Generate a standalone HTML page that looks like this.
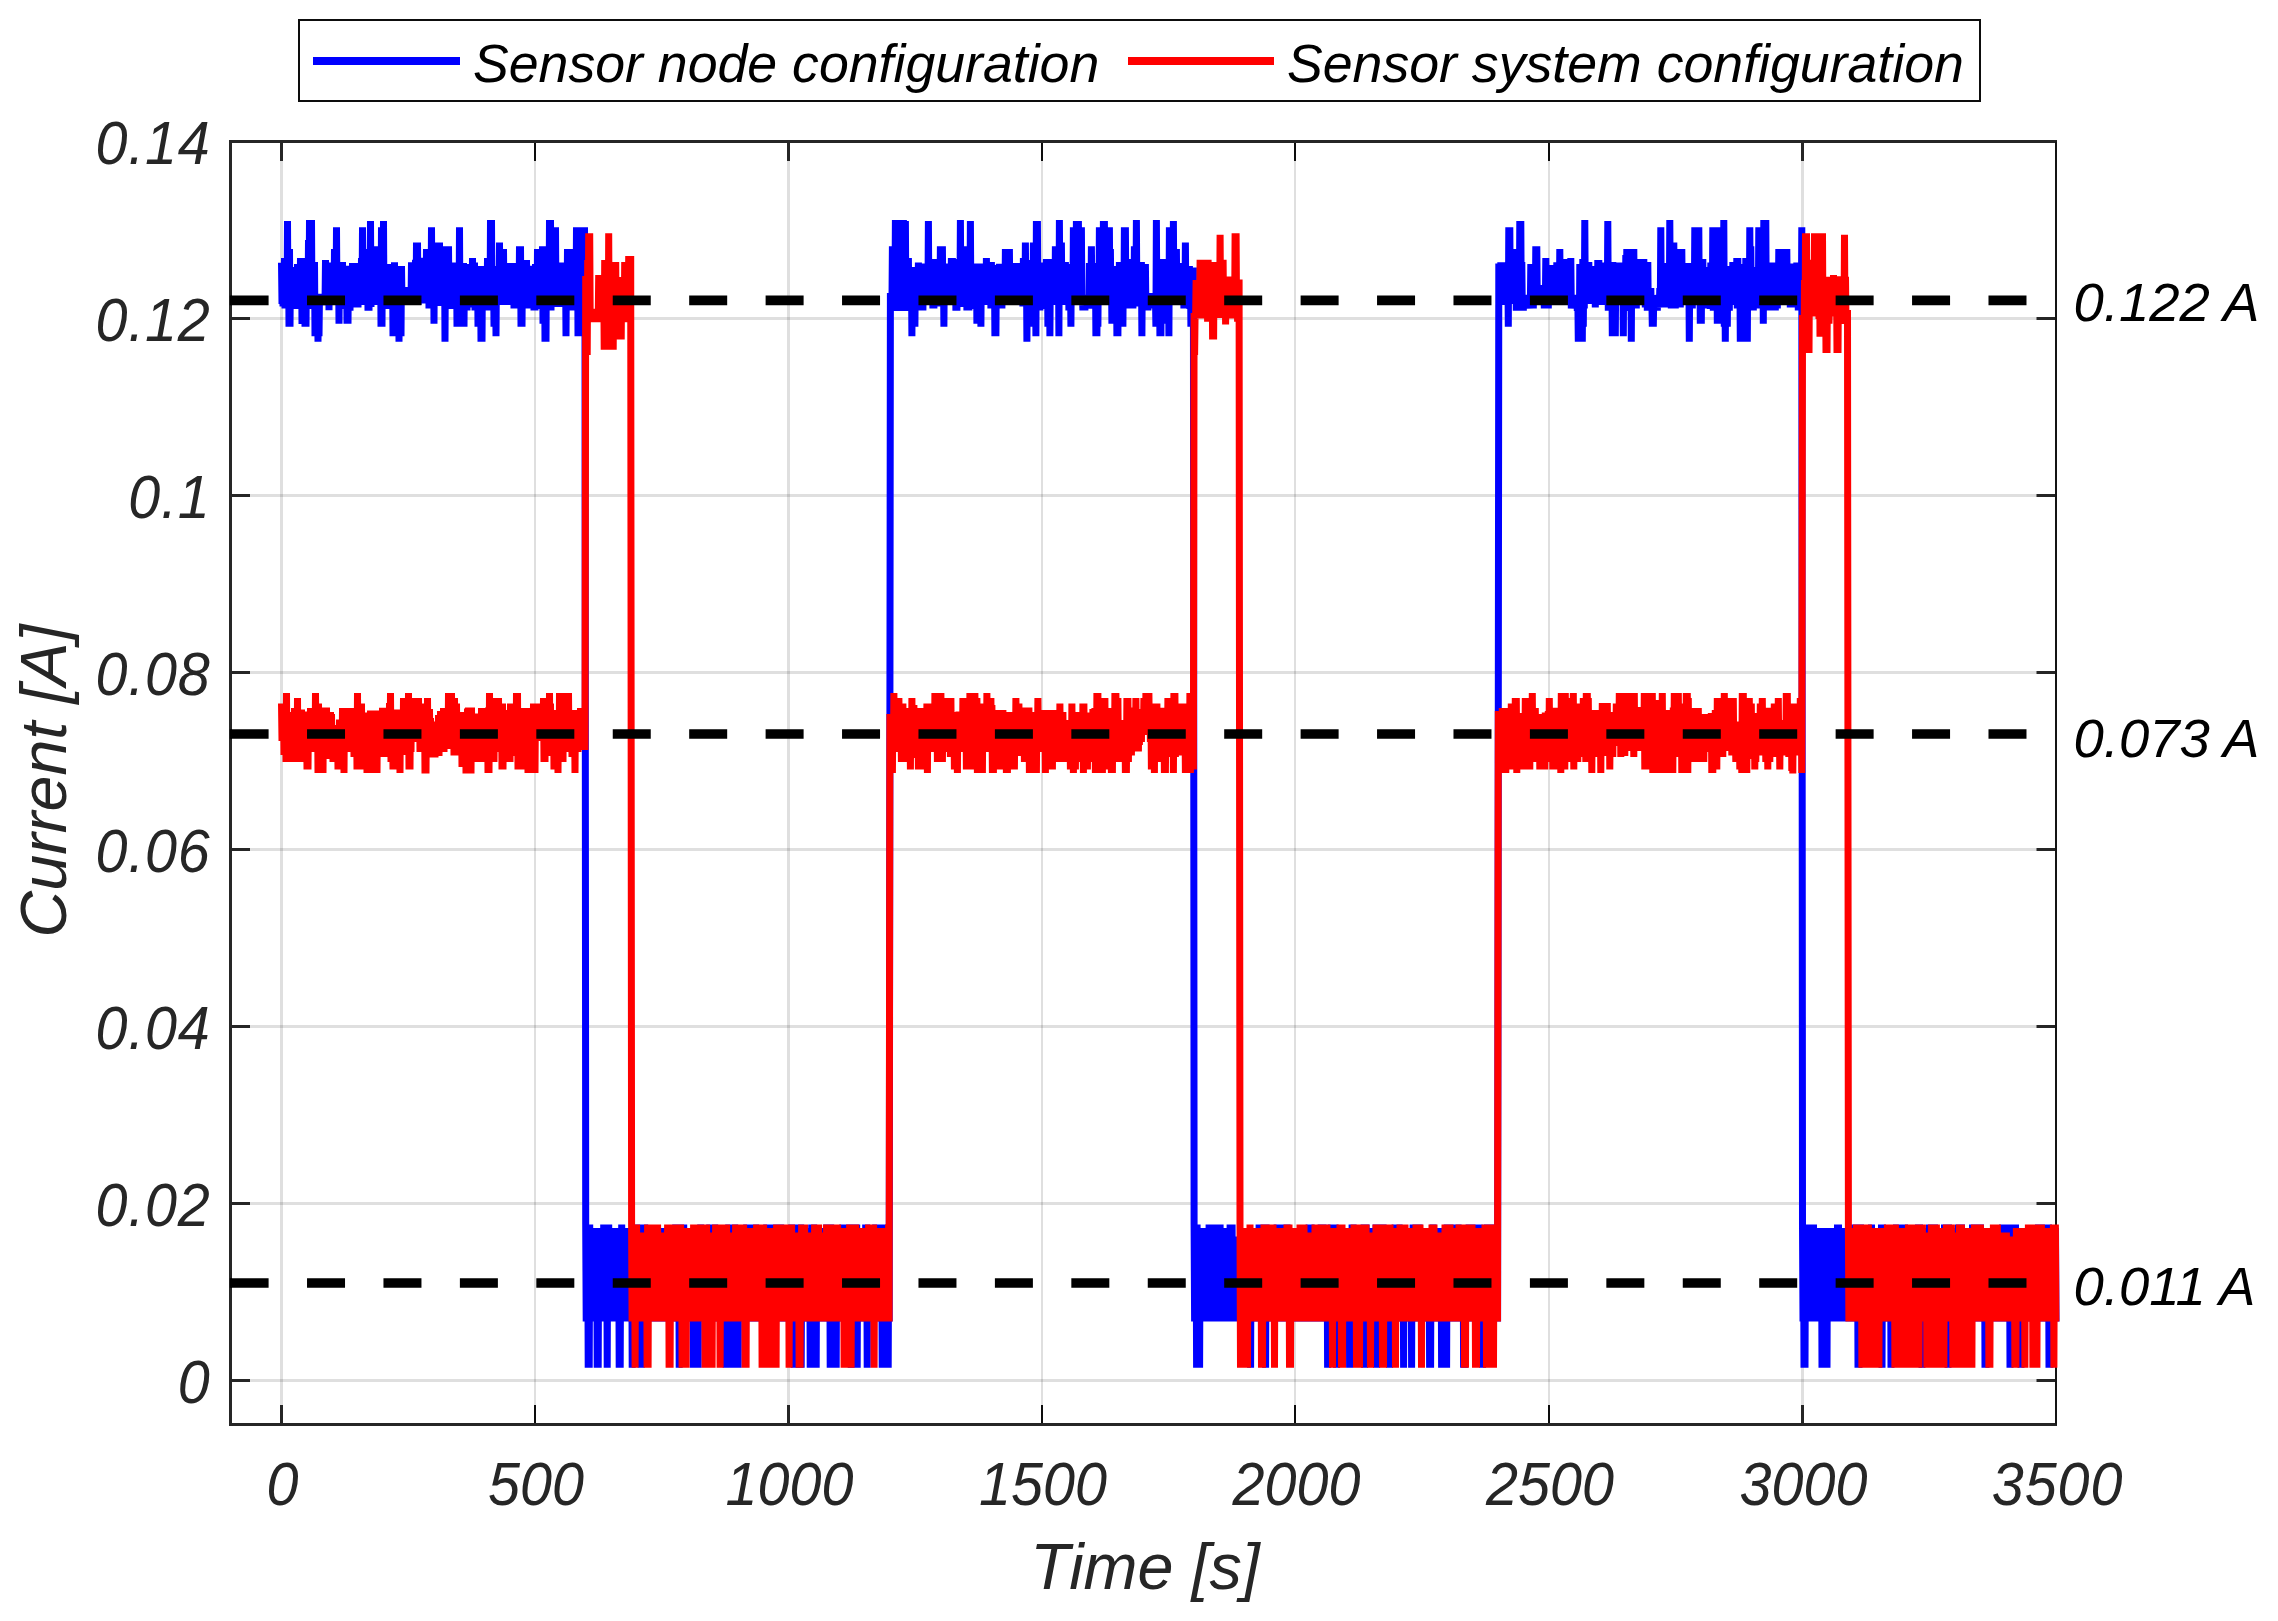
<!DOCTYPE html>
<html lang="en"><head><meta charset="utf-8"><title>Current consumption</title>
<style>html,body{margin:0;padding:0;background:#fff}body{width:2278px;height:1621px;overflow:hidden}svg{display:block}text{font-family:"Liberation Sans", Arial, Helvetica, sans-serif;font-style:italic}</style></head><body>
<svg width="2278" height="1621" viewBox="0 0 2278 1621">
<rect width="2278" height="1621" fill="#fff"/>
<g stroke="#262626" stroke-opacity="0.15" stroke-width="3"><line x1="281.5" y1="141.5" x2="281.5" y2="1424.5"/><line x1="535.0" y1="141.5" x2="535.0" y2="1424.5" stroke-width="2"/><line x1="788.5" y1="141.5" x2="788.5" y2="1424.5"/><line x1="1042.0" y1="141.5" x2="1042.0" y2="1424.5" stroke-width="2"/><line x1="1295.0" y1="141.5" x2="1295.0" y2="1424.5" stroke-width="2"/><line x1="1549.0" y1="141.5" x2="1549.0" y2="1424.5" stroke-width="2"/><line x1="1802.5" y1="141.5" x2="1802.5" y2="1424.5"/><line x1="2056.0" y1="141.5" x2="2056.0" y2="1424.5" stroke-width="2"/><line x1="230.5" y1="1380.5" x2="2056.0" y2="1380.5"/><line x1="230.5" y1="1203.5" x2="2056.0" y2="1203.5"/><line x1="230.5" y1="1026.5" x2="2056.0" y2="1026.5"/><line x1="230.5" y1="849.5" x2="2056.0" y2="849.5"/><line x1="230.5" y1="672.5" x2="2056.0" y2="672.5"/><line x1="230.5" y1="495.5" x2="2056.0" y2="495.5"/><line x1="230.5" y1="318.5" x2="2056.0" y2="318.5"/><line x1="230.5" y1="141.5" x2="2056.0" y2="141.5"/></g>
<g stroke="#262626" stroke-width="3"><line x1="281.5" y1="141.5" x2="281.5" y2="161.0"/><line x1="281.5" y1="1424.5" x2="281.5" y2="1405.0"/><line x1="535.0" y1="141.5" x2="535.0" y2="161.0" stroke-width="2" stroke="#0d0d0d"/><line x1="535.0" y1="1424.5" x2="535.0" y2="1405.0" stroke-width="2" stroke="#0d0d0d"/><line x1="788.5" y1="141.5" x2="788.5" y2="161.0"/><line x1="788.5" y1="1424.5" x2="788.5" y2="1405.0"/><line x1="1042.0" y1="141.5" x2="1042.0" y2="161.0" stroke-width="2" stroke="#0d0d0d"/><line x1="1042.0" y1="1424.5" x2="1042.0" y2="1405.0" stroke-width="2" stroke="#0d0d0d"/><line x1="1295.0" y1="141.5" x2="1295.0" y2="161.0" stroke-width="2" stroke="#0d0d0d"/><line x1="1295.0" y1="1424.5" x2="1295.0" y2="1405.0" stroke-width="2" stroke="#0d0d0d"/><line x1="1549.0" y1="141.5" x2="1549.0" y2="161.0" stroke-width="2" stroke="#0d0d0d"/><line x1="1549.0" y1="1424.5" x2="1549.0" y2="1405.0" stroke-width="2" stroke="#0d0d0d"/><line x1="1802.5" y1="141.5" x2="1802.5" y2="161.0"/><line x1="1802.5" y1="1424.5" x2="1802.5" y2="1405.0"/><line x1="2056.0" y1="141.5" x2="2056.0" y2="161.0" stroke-width="2" stroke="#0d0d0d"/><line x1="2056.0" y1="1424.5" x2="2056.0" y2="1405.0" stroke-width="2" stroke="#0d0d0d"/><line x1="230.5" y1="1380.5" x2="250.0" y2="1380.5"/><line x1="2056.0" y1="1380.5" x2="2036.5" y2="1380.5"/><line x1="230.5" y1="1203.5" x2="250.0" y2="1203.5"/><line x1="2056.0" y1="1203.5" x2="2036.5" y2="1203.5"/><line x1="230.5" y1="1026.5" x2="250.0" y2="1026.5"/><line x1="2056.0" y1="1026.5" x2="2036.5" y2="1026.5"/><line x1="230.5" y1="849.5" x2="250.0" y2="849.5"/><line x1="2056.0" y1="849.5" x2="2036.5" y2="849.5"/><line x1="230.5" y1="672.5" x2="250.0" y2="672.5"/><line x1="2056.0" y1="672.5" x2="2036.5" y2="672.5"/><line x1="230.5" y1="495.5" x2="250.0" y2="495.5"/><line x1="2056.0" y1="495.5" x2="2036.5" y2="495.5"/><line x1="230.5" y1="318.5" x2="250.0" y2="318.5"/><line x1="2056.0" y1="318.5" x2="2036.5" y2="318.5"/><line x1="230.5" y1="141.5" x2="250.0" y2="141.5"/><line x1="2056.0" y1="141.5" x2="2036.5" y2="141.5"/>
<path fill="none" d="M230.5 140.0V1424.5H2057.0"/>
<path fill="none" d="M230.5 141.5H2057.0"/>
<path fill="none" stroke-width="2" stroke="#141414" d="M2056.0 141.5V1424.5"/>
</g>
<polyline fill="none" stroke="#0000ff" stroke-width="7" stroke-linejoin="bevel" stroke-linecap="butt" points="281.5,262.8 282.0,304.0 282.5,262.8 283.0,306.5 283.5,262.8 284.0,306.5 284.5,258.0 285.0,308.5 285.5,258.0 286.0,308.5 286.5,258.0 287.0,308.5 287.5,221.0 288.0,308.5 288.5,249.0 289.0,326.7 289.5,249.0 290.0,326.7 290.5,267.0 291.0,309.0 291.5,267.0 292.0,309.0 292.5,267.0 293.0,309.0 293.5,267.0 294.0,309.0 294.5,267.0 295.0,309.0 295.5,267.0 296.0,309.0 296.5,267.0 297.0,309.0 297.5,264.0 298.0,309.0 298.5,264.0 299.0,309.0 299.5,264.0 300.0,309.0 300.5,258.0 301.0,309.0 301.5,258.0 302.0,324.0 302.5,258.0 303.0,324.0 303.5,258.0 304.0,324.0 304.5,258.0 305.0,326.7 305.5,258.0 306.0,326.7 306.5,258.0 307.0,309.0 307.5,258.0 308.0,309.0 308.5,240.0 309.0,309.0 309.5,220.0 310.0,309.0 310.5,220.0 311.0,309.0 311.5,220.0 312.0,309.0 312.5,262.0 313.0,309.0 313.5,262.0 314.0,309.0 314.5,262.0 315.0,336.3 315.5,294.0 316.0,336.3 316.5,294.0 317.0,336.3 317.5,294.0 318.0,341.7 318.5,294.0 319.0,336.3 319.5,294.0 320.0,305.0 320.5,294.0 321.0,305.0 321.5,294.0 322.0,305.0 322.5,294.0 323.0,305.0 323.5,294.0 324.0,305.0 324.5,294.0 325.0,305.0 325.5,260.0 326.0,305.0 326.5,262.5 327.0,305.0 327.5,262.5 328.0,305.0 328.5,262.5 329.0,310.3 329.5,262.5 330.0,305.0 330.5,262.5 331.0,305.0 331.5,262.5 332.0,305.0 332.5,262.5 333.0,305.0 333.5,262.5 334.0,305.0 334.5,249.0 335.0,305.0 335.5,249.0 336.0,305.0 336.5,227.2 337.0,305.0 337.5,262.0 338.0,305.0 338.5,262.0 339.0,323.7 339.5,262.0 340.0,309.0 340.5,262.0 341.0,309.0 341.5,262.0 342.0,309.0 342.5,262.0 343.0,309.0 343.5,265.8 344.0,309.0 344.5,265.8 345.0,309.0 345.5,265.8 346.0,309.0 346.5,265.8 347.0,323.7 347.5,265.8 348.0,323.7 348.5,265.8 349.0,310.7 349.5,265.8 350.0,310.7 350.5,265.8 351.0,307.5 351.5,265.8 352.0,307.5 352.5,263.0 353.0,307.5 353.5,263.0 354.0,307.5 354.5,263.0 355.0,307.5 355.5,263.0 356.0,307.5 356.5,263.0 357.0,307.5 357.5,263.0 358.0,307.5 358.5,263.0 359.0,305.0 359.5,263.0 360.0,305.0 360.5,263.0 361.0,305.0 361.5,258.0 362.0,305.0 362.5,227.2 363.0,305.0 363.5,249.0 364.0,305.0 364.5,249.0 365.0,305.0 365.5,249.0 366.0,305.0 366.5,249.0 367.0,305.0 367.5,249.0 368.0,310.7 368.5,249.0 369.0,310.7 369.5,249.0 370.0,307.0 370.5,221.0 371.0,307.0 371.5,246.2 372.0,305.0 372.5,246.2 373.0,305.0 373.5,246.2 374.0,305.0 374.5,246.2 375.0,305.0 375.5,246.2 376.0,305.0 376.5,246.2 377.0,305.0 377.5,246.2 378.0,305.0 378.5,246.2 379.0,305.0 379.5,246.2 380.0,305.0 380.5,246.2 381.0,326.7 381.5,227.2 382.0,326.7 382.5,227.2 383.0,309.0 383.5,221.0 384.0,309.0 384.5,264.0 385.0,309.0 385.5,264.0 386.0,309.0 386.5,264.0 387.0,309.0 387.5,264.0 388.0,309.0 388.5,264.0 389.0,309.0 389.5,264.0 390.0,309.0 390.5,264.0 391.0,309.0 391.5,264.0 392.0,309.0 392.5,264.0 393.0,336.3 393.5,264.0 394.0,336.3 394.5,262.3 395.0,336.3 395.5,266.0 396.0,336.3 396.5,266.0 397.0,336.3 397.5,266.0 398.0,336.3 398.5,266.0 399.0,341.7 399.5,266.0 400.0,336.3 400.5,266.0 401.0,336.3 401.5,266.0 402.0,305.0 402.5,287.0 403.0,305.0 403.5,287.0 404.0,305.0 404.5,287.0 405.0,305.0 405.5,287.0 406.0,305.0 406.5,287.0 407.0,305.0 407.5,287.0 408.0,305.0 408.5,287.0 409.0,305.0 409.5,287.0 410.0,305.0 410.5,287.0 411.0,305.0 411.5,262.3 412.0,305.0 412.5,262.3 413.0,305.0 413.5,262.3 414.0,305.0 414.5,262.3 415.0,305.0 415.5,259.8 416.0,305.0 416.5,242.5 417.0,305.0 417.5,242.5 418.0,305.0 418.5,257.8 419.0,303.5 419.5,257.8 420.0,303.5 420.5,257.8 421.0,303.5 421.5,257.8 422.0,303.5 422.5,257.8 423.0,303.5 423.5,257.8 424.0,303.5 424.5,257.8 425.0,303.5 425.5,257.8 426.0,303.5 426.5,249.0 427.0,303.5 427.5,249.0 428.0,303.5 428.5,249.0 429.0,308.5 429.5,249.0 430.0,308.5 430.5,249.0 431.0,308.5 431.5,227.2 432.0,308.5 432.5,242.5 433.0,308.5 433.5,242.5 434.0,323.7 434.5,242.5 435.0,306.0 435.5,242.5 436.0,306.0 436.5,242.5 437.0,306.0 437.5,242.5 438.0,306.0 438.5,242.5 439.0,306.0 439.5,242.5 440.0,306.0 440.5,246.2 441.0,306.0 441.5,246.2 442.0,306.0 442.5,246.2 443.0,306.0 443.5,246.2 444.0,306.0 444.5,246.2 445.0,341.7 445.5,246.2 446.0,309.0 446.5,246.2 447.0,309.0 447.5,246.2 448.0,309.0 448.5,246.2 449.0,309.0 449.5,262.5 450.0,309.0 450.5,262.5 451.0,309.0 451.5,262.5 452.0,309.0 452.5,262.5 453.0,309.0 453.5,262.5 454.0,309.0 454.5,262.5 455.0,309.0 455.5,262.5 456.0,309.0 456.5,262.5 457.0,326.7 457.5,262.5 458.0,326.7 458.5,262.5 459.0,326.7 459.5,227.2 460.0,326.7 460.5,263.0 461.0,326.7 461.5,263.0 462.0,326.7 462.5,263.0 463.0,326.7 463.5,263.0 464.0,326.7 464.5,264.0 465.0,310.5 465.5,264.0 466.0,310.5 466.5,264.0 467.0,310.5 467.5,264.0 468.0,307.5 468.5,264.0 469.0,307.5 469.5,264.0 470.0,307.5 470.5,264.0 471.0,307.5 471.5,264.0 472.0,307.5 472.5,258.0 473.0,307.5 473.5,262.5 474.0,307.5 474.5,262.5 475.0,310.5 475.5,266.0 476.0,310.5 476.5,266.0 477.0,310.5 477.5,266.0 478.0,326.7 478.5,266.0 479.0,326.7 479.5,266.0 480.0,326.7 480.5,266.0 481.0,341.7 481.5,266.0 482.0,341.7 482.5,266.0 483.0,310.5 483.5,266.0 484.0,310.5 484.5,266.0 485.0,310.5 485.5,266.0 486.0,310.5 486.5,266.0 487.0,310.5 487.5,258.0 488.0,310.5 488.5,258.0 489.0,310.5 489.5,258.0 490.0,310.5 490.5,220.0 491.0,310.5 491.5,220.0 492.0,310.5 492.5,266.0 493.0,310.5 493.5,266.0 494.0,326.7 494.5,266.0 495.0,326.7 495.5,266.0 496.0,336.3 496.5,266.0 497.0,305.0 497.5,266.0 498.0,305.0 498.5,266.0 499.0,305.0 499.5,242.5 500.0,305.0 500.5,249.0 501.0,305.0 501.5,249.0 502.0,305.0 502.5,249.0 503.0,305.0 503.5,249.0 504.0,305.0 504.5,263.0 505.0,305.0 505.5,263.0 506.0,305.0 506.5,263.0 507.0,305.0 507.5,263.0 508.0,305.0 508.5,263.0 509.0,305.0 509.5,263.0 510.0,305.0 510.5,263.0 511.0,305.0 511.5,263.0 512.0,305.0 512.5,263.0 513.0,305.0 513.5,263.0 514.0,308.5 514.5,263.0 515.0,308.5 515.5,263.0 516.0,308.5 516.5,263.0 517.0,308.5 517.5,263.0 518.0,308.5 518.5,263.0 519.0,308.5 519.5,246.2 520.0,308.5 520.5,246.2 521.0,326.7 521.5,260.0 522.0,326.7 522.5,260.0 523.0,308.5 523.5,260.0 524.0,308.5 524.5,260.0 525.0,308.5 525.5,260.0 526.0,308.5 526.5,260.0 527.0,308.5 527.5,265.8 528.0,308.5 528.5,265.8 529.0,308.5 529.5,265.8 530.0,308.5 530.5,265.8 531.0,308.5 531.5,265.8 532.0,308.5 532.5,265.8 533.0,308.5 533.5,265.8 534.0,310.5 534.5,265.8 535.0,310.5 535.5,264.0 536.0,309.0 536.5,264.0 537.0,309.0 537.5,249.0 538.0,309.0 538.5,249.0 539.0,309.0 539.5,249.0 540.0,309.0 540.5,249.0 541.0,309.0 541.5,249.0 542.0,309.0 542.5,246.2 543.0,323.7 543.5,246.2 544.0,323.7 544.5,246.2 545.0,341.7 545.5,246.2 546.0,341.7 546.5,246.2 547.0,310.5 547.5,246.2 548.0,310.5 548.5,246.2 549.0,310.5 549.5,220.0 550.0,310.5 550.5,220.0 551.0,310.5 551.5,227.2 552.0,307.0 552.5,227.2 553.0,307.0 553.5,227.2 554.0,307.0 554.5,227.2 555.0,307.0 555.5,227.2 556.0,307.0 556.5,262.5 557.0,307.0 557.5,262.5 558.0,307.0 558.5,262.5 559.0,307.0 559.5,262.5 560.0,307.0 560.5,262.5 561.0,307.0 561.5,262.5 562.0,307.0 562.5,262.5 563.0,307.0 563.5,262.5 564.0,307.0 564.5,262.5 565.0,307.0 565.5,262.5 566.0,336.3 566.5,262.5 567.0,310.5 567.5,249.0 568.0,310.5 568.5,249.0 569.0,310.5 569.5,249.0 570.0,310.5 570.5,249.0 571.0,310.5 571.5,249.0 572.0,310.5 572.5,249.0 573.0,310.5 573.5,249.0 574.0,310.5 574.5,249.0 575.0,310.5 575.5,249.0 576.0,310.5 576.5,227.2 577.0,310.5 577.5,227.2 578.0,336.3 578.5,227.2 579.0,336.3 579.5,227.2 580.0,336.3 580.5,227.2 581.0,336.3 581.5,227.2 582.0,336.3 582.5,227.2 583.0,336.3 583.5,227.2 584.0,336.3 584.5,227.2 585.0,336.3 585.7,1224.5 586.2,1321.5 586.7,1224.5 587.2,1321.5 587.7,1224.5 588.2,1367.7 588.7,1224.5 589.2,1367.7 589.7,1224.5 590.2,1321.5 590.7,1228.0 591.2,1321.5 591.7,1228.0 592.2,1321.5 592.7,1228.0 593.2,1321.5 593.7,1228.0 594.2,1321.5 594.7,1228.0 595.2,1321.5 595.7,1228.0 596.2,1321.5 596.7,1228.0 597.2,1367.7 597.7,1228.0 598.2,1367.7 598.7,1228.0 599.2,1321.5 599.7,1228.0 600.2,1321.5 600.7,1228.0 601.2,1321.5 601.7,1228.0 602.2,1321.5 602.7,1228.0 603.2,1321.5 603.7,1224.5 604.2,1321.5 604.7,1224.5 605.2,1321.5 605.7,1224.5 606.2,1321.5 606.7,1224.5 607.2,1367.7 607.7,1224.5 608.2,1321.5 608.7,1224.5 609.2,1321.5 609.7,1228.0 610.2,1321.5 610.7,1228.0 611.2,1321.5 611.7,1228.0 612.2,1321.5 612.7,1228.0 613.2,1321.5 613.7,1228.0 614.2,1321.5 614.7,1228.0 615.2,1321.5 615.7,1228.0 616.2,1321.5 616.7,1228.0 617.2,1321.5 617.7,1228.0 618.2,1321.5 618.7,1228.0 619.2,1367.7 619.7,1228.0 620.2,1367.7 620.7,1228.0 621.2,1321.5 621.7,1224.5 622.2,1321.5 622.7,1228.0 623.2,1321.5 623.7,1228.0 624.2,1321.5 624.7,1228.0 625.2,1321.5 625.7,1228.0 626.2,1321.5 626.7,1228.0 627.2,1321.5 627.7,1228.0 628.2,1321.5 628.7,1228.0 629.2,1321.5 629.7,1228.0 630.2,1321.5 630.7,1228.0 631.2,1321.5 631.7,1228.0 632.2,1367.7 632.7,1228.0 633.2,1321.5 633.7,1224.5 634.2,1321.5 634.7,1224.5 635.2,1321.5 635.7,1224.5 636.2,1321.5 636.7,1224.5 637.2,1321.5 637.7,1224.5 638.2,1321.5 638.7,1224.5 639.2,1321.5 639.7,1224.5 640.2,1321.5 640.7,1224.5 641.2,1367.7 641.7,1224.5 642.2,1321.5 642.7,1224.5 643.2,1321.5 643.7,1224.5 644.2,1321.5 644.7,1224.5 645.2,1321.5 645.7,1228.0 646.2,1321.5 646.7,1228.0 647.2,1321.5 647.7,1228.0 648.2,1321.5 648.7,1228.0 649.2,1321.5 649.7,1228.0 650.2,1321.5 650.7,1228.0 651.2,1321.5 651.7,1228.0 652.2,1321.5 652.7,1228.0 653.2,1321.5 653.7,1228.0 654.2,1321.5 654.7,1228.0 655.2,1321.5 655.7,1228.0 656.2,1321.5 656.7,1228.0 657.2,1321.5 657.7,1228.0 658.2,1321.5 658.7,1228.0 659.2,1321.5 659.7,1228.0 660.2,1321.5 660.7,1228.0 661.2,1321.5 661.7,1228.0 662.2,1321.5 662.7,1228.0 663.2,1321.5 663.7,1228.0 664.2,1321.5 664.7,1228.0 665.2,1321.5 665.7,1236.5 666.2,1321.5 666.7,1236.5 667.2,1321.5 667.7,1236.5 668.2,1321.5 668.7,1236.5 669.2,1321.5 669.7,1236.5 670.2,1321.5 670.7,1236.5 671.2,1321.5 671.7,1236.5 672.2,1321.5 672.7,1236.5 673.2,1321.5 673.7,1236.5 674.2,1321.5 674.7,1236.5 675.2,1321.5 675.7,1224.5 676.2,1321.5 676.7,1224.5 677.2,1321.5 677.7,1224.5 678.2,1321.5 678.7,1224.5 679.2,1367.7 679.7,1224.5 680.2,1321.5 680.7,1224.5 681.2,1321.5 681.7,1224.5 682.2,1321.5 682.7,1224.5 683.2,1321.5 683.7,1224.5 684.2,1321.5 684.7,1228.0 685.2,1321.5 685.7,1228.0 686.2,1321.5 686.7,1228.0 687.2,1321.5 687.7,1228.0 688.2,1321.5 688.7,1228.0 689.2,1321.5 689.7,1228.0 690.2,1321.5 690.7,1228.0 691.2,1321.5 691.7,1228.0 692.2,1321.5 692.7,1228.0 693.2,1367.7 693.7,1228.0 694.2,1367.7 694.7,1228.0 695.2,1367.7 695.7,1228.0 696.2,1367.7 696.7,1228.0 697.2,1367.7 697.7,1228.0 698.2,1367.7 698.7,1228.0 699.2,1321.5 699.7,1228.0 700.2,1321.5 700.7,1224.5 701.2,1321.5 701.7,1228.0 702.2,1321.5 702.7,1228.0 703.2,1321.5 703.7,1228.0 704.2,1321.5 704.7,1228.0 705.2,1321.5 705.7,1228.0 706.2,1321.5 706.7,1228.0 707.2,1321.5 707.7,1228.0 708.2,1321.5 708.7,1228.0 709.2,1321.5 709.7,1224.5 710.2,1321.5 710.7,1224.5 711.2,1321.5 711.7,1224.5 712.2,1321.5 712.7,1224.5 713.2,1321.5 713.7,1224.5 714.2,1321.5 714.7,1224.5 715.2,1321.5 715.7,1228.0 716.2,1321.5 716.7,1228.0 717.2,1321.5 717.7,1228.0 718.2,1321.5 718.7,1228.0 719.2,1321.5 719.7,1228.0 720.2,1321.5 720.7,1228.0 721.2,1321.5 721.7,1228.0 722.2,1321.5 722.7,1228.0 723.2,1321.5 723.7,1228.0 724.2,1321.5 724.7,1228.0 725.2,1321.5 725.7,1228.0 726.2,1367.7 726.7,1228.0 727.2,1321.5 727.7,1228.0 728.2,1321.5 728.7,1224.5 729.2,1321.5 729.7,1224.5 730.2,1321.5 730.7,1224.5 731.2,1321.5 731.7,1224.5 732.2,1321.5 732.7,1224.5 733.2,1367.7 733.7,1224.5 734.2,1367.7 734.7,1224.5 735.2,1367.7 735.7,1228.0 736.2,1367.7 736.7,1228.0 737.2,1367.7 737.7,1228.0 738.2,1367.7 738.7,1228.0 739.2,1321.5 739.7,1228.0 740.2,1321.5 740.7,1228.0 741.2,1321.5 741.7,1228.0 742.2,1321.5 742.7,1228.0 743.2,1321.5 743.7,1228.0 744.2,1321.5 744.7,1228.0 745.2,1321.5 745.7,1228.0 746.2,1321.5 746.7,1224.5 747.2,1321.5 747.7,1224.5 748.2,1321.5 748.7,1224.5 749.2,1321.5 749.7,1224.5 750.2,1321.5 750.7,1224.5 751.2,1321.5 751.7,1224.5 752.2,1321.5 752.7,1224.5 753.2,1321.5 753.7,1224.5 754.2,1321.5 754.7,1224.5 755.2,1321.5 755.7,1224.5 756.2,1321.5 756.7,1228.0 757.2,1321.5 757.7,1228.0 758.2,1321.5 758.7,1228.0 759.2,1321.5 759.7,1228.0 760.2,1321.5 760.7,1228.0 761.2,1321.5 761.7,1228.0 762.2,1321.5 762.7,1228.0 763.2,1321.5 763.7,1228.0 764.2,1321.5 764.7,1228.0 765.2,1321.5 765.7,1228.0 766.2,1321.5 766.7,1224.5 767.2,1321.5 767.7,1224.5 768.2,1321.5 768.7,1224.5 769.2,1321.5 769.7,1224.5 770.2,1321.5 770.7,1224.5 771.2,1321.5 771.7,1224.5 772.2,1321.5 772.7,1224.5 773.2,1321.5 773.7,1224.5 774.2,1321.5 774.7,1224.5 775.2,1321.5 775.7,1224.5 776.2,1321.5 776.7,1224.5 777.2,1321.5 777.7,1224.5 778.2,1321.5 778.7,1224.5 779.2,1321.5 779.7,1224.5 780.2,1321.5 780.7,1224.5 781.2,1321.5 781.7,1236.5 782.2,1321.5 782.7,1236.5 783.2,1321.5 783.7,1236.5 784.2,1321.5 784.7,1236.5 785.2,1321.5 785.7,1236.5 786.2,1321.5 786.7,1236.5 787.2,1321.5 787.7,1236.5 788.2,1321.5 788.7,1236.5 789.2,1321.5 789.7,1236.5 790.2,1321.5 790.7,1236.5 791.2,1321.5 791.7,1224.5 792.2,1321.5 792.7,1224.5 793.2,1321.5 793.7,1224.5 794.2,1367.7 794.7,1224.5 795.2,1367.7 795.7,1224.5 796.2,1367.7 796.7,1224.5 797.2,1367.7 797.7,1224.5 798.2,1367.7 798.7,1224.5 799.2,1367.7 799.7,1224.5 800.2,1367.7 800.7,1224.5 801.2,1367.7 801.7,1228.0 802.2,1321.5 802.7,1228.0 803.2,1321.5 803.7,1228.0 804.2,1321.5 804.7,1228.0 805.2,1321.5 805.7,1228.0 806.2,1321.5 806.7,1228.0 807.2,1321.5 807.7,1228.0 808.2,1321.5 808.7,1228.0 809.2,1321.5 809.7,1228.0 810.2,1367.7 810.7,1228.0 811.2,1367.7 811.7,1224.5 812.2,1367.7 812.7,1224.5 813.2,1367.7 813.7,1224.5 814.2,1367.7 814.7,1228.0 815.2,1367.7 815.7,1228.0 816.2,1367.7 816.7,1228.0 817.2,1321.5 817.7,1228.0 818.2,1321.5 818.7,1228.0 819.2,1321.5 819.7,1228.0 820.2,1321.5 820.7,1228.0 821.2,1321.5 821.7,1228.0 822.2,1321.5 822.7,1228.0 823.2,1321.5 823.7,1228.0 824.2,1321.5 824.7,1228.0 825.2,1321.5 825.7,1228.0 826.2,1321.5 826.7,1224.5 827.2,1321.5 827.7,1224.5 828.2,1321.5 828.7,1224.5 829.2,1321.5 829.7,1224.5 830.2,1367.7 830.7,1224.5 831.2,1367.7 831.7,1228.0 832.2,1367.7 832.7,1228.0 833.2,1367.7 833.7,1228.0 834.2,1367.7 834.7,1228.0 835.2,1367.7 835.7,1228.0 836.2,1367.7 836.7,1228.0 837.2,1321.5 837.7,1228.0 838.2,1321.5 838.7,1228.0 839.2,1321.5 839.7,1228.0 840.2,1321.5 840.7,1228.0 841.2,1321.5 841.7,1228.0 842.2,1321.5 842.7,1224.5 843.2,1321.5 843.7,1224.5 844.2,1321.5 844.7,1224.5 845.2,1321.5 845.7,1224.5 846.2,1321.5 846.7,1224.5 847.2,1321.5 847.7,1224.5 848.2,1321.5 848.7,1224.5 849.2,1321.5 849.7,1224.5 850.2,1321.5 850.7,1224.5 851.2,1367.7 851.7,1224.5 852.2,1367.7 852.7,1224.5 853.2,1367.7 853.7,1224.5 854.2,1367.7 854.7,1224.5 855.2,1367.7 855.7,1224.5 856.2,1367.7 856.7,1224.5 857.2,1367.7 857.7,1228.0 858.2,1321.5 858.7,1228.0 859.2,1321.5 859.7,1228.0 860.2,1321.5 860.7,1228.0 861.2,1321.5 861.7,1228.0 862.2,1321.5 862.7,1228.0 863.2,1321.5 863.7,1228.0 864.2,1321.5 864.7,1228.0 865.2,1321.5 865.7,1224.5 866.2,1321.5 866.7,1224.5 867.2,1367.7 867.7,1232.5 868.2,1321.5 868.7,1232.5 869.2,1321.5 869.7,1232.5 870.2,1321.5 870.7,1232.5 871.2,1321.5 871.7,1232.5 872.2,1321.5 872.7,1232.5 873.2,1321.5 873.7,1232.5 874.2,1321.5 874.7,1232.5 875.2,1321.5 875.7,1224.5 876.2,1321.5 876.7,1224.5 877.2,1321.5 877.7,1224.5 878.2,1321.5 878.7,1224.5 879.2,1321.5 879.7,1224.5 880.2,1321.5 880.7,1224.5 881.2,1321.5 881.7,1224.5 882.2,1367.7 882.7,1224.5 883.2,1367.7 883.7,1224.5 884.2,1367.7 884.7,1224.5 885.2,1367.7 885.7,1224.5 886.2,1367.7 886.7,1224.5 887.2,1367.7 887.7,1224.5 888.2,1367.7 888.7,1224.5 889.2,1321.5 890.4,293.0 890.9,311.0 891.4,293.0 891.9,311.0 892.4,246.2 892.9,311.0 893.4,246.2 893.9,311.0 894.4,246.2 894.9,311.0 895.4,220.0 895.9,311.0 896.4,220.0 896.9,311.0 897.4,220.0 897.9,311.0 898.4,220.0 898.9,311.0 899.4,220.0 899.9,311.0 900.4,220.0 900.9,311.0 901.4,220.0 901.9,311.0 902.4,220.0 902.9,311.0 903.4,220.0 903.9,311.0 904.4,221.0 904.9,311.0 905.4,221.0 905.9,311.0 906.4,258.0 906.9,311.0 907.4,258.0 907.9,311.0 908.4,258.0 908.9,311.0 909.4,267.0 909.9,311.0 910.4,267.0 910.9,311.0 911.4,267.0 911.9,336.3 912.4,267.0 912.9,326.7 913.4,267.0 913.9,326.7 914.4,267.0 914.9,326.7 915.4,267.0 915.9,310.5 916.4,267.0 916.9,310.5 917.4,267.0 917.9,310.5 918.4,262.5 918.9,310.5 919.4,263.5 919.9,310.5 920.4,263.5 920.9,310.5 921.4,263.5 921.9,310.5 922.4,263.5 922.9,310.5 923.4,263.5 923.9,305.0 924.4,263.5 924.9,305.0 925.4,263.5 925.9,305.0 926.4,263.5 926.9,305.0 927.4,263.5 927.9,305.0 928.4,221.0 928.9,305.0 929.4,259.0 929.9,305.0 930.4,259.0 930.9,305.0 931.4,259.0 931.9,305.0 932.4,259.0 932.9,308.5 933.4,259.0 933.9,308.5 934.4,259.0 934.9,306.5 935.4,259.0 935.9,306.5 936.4,259.0 936.9,306.5 937.4,259.0 937.9,306.5 938.4,259.0 938.9,306.5 939.4,259.0 939.9,306.5 940.4,246.2 940.9,306.5 941.4,246.2 941.9,306.5 942.4,246.2 942.9,306.5 943.4,263.5 943.9,326.7 944.4,263.5 944.9,305.0 945.4,263.5 945.9,305.0 946.4,263.5 946.9,305.0 947.4,263.5 947.9,305.0 948.4,263.5 948.9,305.0 949.4,263.5 949.9,305.0 950.4,263.5 950.9,305.0 951.4,258.0 951.9,305.0 952.4,258.0 952.9,305.0 953.4,259.0 953.9,305.0 954.4,259.0 954.9,305.0 955.4,259.0 955.9,310.7 956.4,259.0 956.9,310.7 957.4,259.0 957.9,307.0 958.4,259.0 958.9,307.0 959.4,259.0 959.9,307.0 960.4,220.0 960.9,307.0 961.4,246.2 961.9,307.0 962.4,246.2 962.9,307.0 963.4,246.2 963.9,307.0 964.4,246.2 964.9,307.0 965.4,246.2 965.9,307.0 966.4,246.2 966.9,310.5 967.4,246.2 967.9,310.5 968.4,246.2 968.9,310.5 969.4,246.2 969.9,309.0 970.4,221.0 970.9,309.0 971.4,263.5 971.9,309.0 972.4,263.5 972.9,309.0 973.4,263.5 973.9,309.0 974.4,263.5 974.9,309.0 975.4,263.5 975.9,309.0 976.4,263.5 976.9,323.7 977.4,263.5 977.9,323.7 978.4,263.5 978.9,323.7 979.4,263.5 979.9,323.7 980.4,263.5 980.9,326.7 981.4,263.5 981.9,305.0 982.4,263.5 982.9,305.0 983.4,263.5 983.9,305.0 984.4,263.5 984.9,305.0 985.4,263.5 985.9,305.0 986.4,258.0 986.9,305.0 987.4,262.0 987.9,305.0 988.4,262.0 988.9,305.0 989.4,262.0 989.9,305.0 990.4,262.0 990.9,308.5 991.4,262.0 991.9,308.5 992.4,265.0 992.9,308.5 993.4,265.0 993.9,308.5 994.4,265.0 994.9,336.3 995.4,265.0 995.9,336.3 996.4,265.0 996.9,308.5 997.4,265.0 997.9,308.5 998.4,265.0 998.9,308.5 999.4,263.8 999.9,308.5 1000.4,263.8 1000.9,308.5 1001.4,263.8 1001.9,308.5 1002.4,263.8 1002.9,305.0 1003.4,263.8 1003.9,305.0 1004.4,263.8 1004.9,305.0 1005.4,249.0 1005.9,305.0 1006.4,249.0 1006.9,305.0 1007.4,249.0 1007.9,305.0 1008.4,249.0 1008.9,305.0 1009.4,249.0 1009.9,305.0 1010.4,263.0 1010.9,305.0 1011.4,263.0 1011.9,305.0 1012.4,263.0 1012.9,305.0 1013.4,263.0 1013.9,305.0 1014.4,263.0 1014.9,305.0 1015.4,263.0 1015.9,305.0 1016.4,263.0 1016.9,305.0 1017.4,263.0 1017.9,305.0 1018.4,263.0 1018.9,305.0 1019.4,263.0 1019.9,305.0 1020.4,263.0 1020.9,305.0 1021.4,263.0 1021.9,305.0 1022.4,263.0 1022.9,306.5 1023.4,258.0 1023.9,306.5 1024.4,258.0 1024.9,306.5 1025.4,242.5 1025.9,306.5 1026.4,260.0 1026.9,341.7 1027.4,260.0 1027.9,326.7 1028.4,260.0 1028.9,326.7 1029.4,260.0 1029.9,326.7 1030.4,260.0 1030.9,326.7 1031.4,260.0 1031.9,326.7 1032.4,260.0 1032.9,326.7 1033.4,242.5 1033.9,326.7 1034.4,242.5 1034.9,326.7 1035.4,242.5 1035.9,336.3 1036.4,221.0 1036.9,310.5 1037.4,221.0 1037.9,310.5 1038.4,262.5 1038.9,310.5 1039.4,262.5 1039.9,310.5 1040.4,262.5 1040.9,309.0 1041.4,262.5 1041.9,309.0 1042.4,262.5 1042.9,309.0 1043.4,262.5 1043.9,309.0 1044.4,262.5 1044.9,309.0 1045.4,262.5 1045.9,309.0 1046.4,259.0 1046.9,309.0 1047.4,259.0 1047.9,326.7 1048.4,259.0 1048.9,326.7 1049.4,259.0 1049.9,336.3 1050.4,259.0 1050.9,305.0 1051.4,259.0 1051.9,305.0 1052.4,259.0 1052.9,305.0 1053.4,259.0 1053.9,305.0 1054.4,259.0 1054.9,305.0 1055.4,246.2 1055.9,305.0 1056.4,246.2 1056.9,305.0 1057.4,246.2 1057.9,305.0 1058.4,246.2 1058.9,336.3 1059.4,220.0 1059.9,305.0 1060.4,242.5 1060.9,305.0 1061.4,242.5 1061.9,305.0 1062.4,262.0 1062.9,305.0 1063.4,262.0 1063.9,305.0 1064.4,262.0 1064.9,305.0 1065.4,262.0 1065.9,305.0 1066.4,264.0 1066.9,305.0 1067.4,264.0 1067.9,305.0 1068.4,264.0 1068.9,310.5 1069.4,264.0 1069.9,310.5 1070.4,264.0 1070.9,326.7 1071.4,264.0 1071.9,305.0 1072.4,264.0 1072.9,305.0 1073.4,227.2 1073.9,305.0 1074.4,227.2 1074.9,305.0 1075.4,227.2 1075.9,305.0 1076.4,221.0 1076.9,305.0 1077.4,221.0 1077.9,305.0 1078.4,221.0 1078.9,305.0 1079.4,227.2 1079.9,305.0 1080.4,227.2 1080.9,305.0 1081.4,227.2 1081.9,305.0 1082.4,295.0 1082.9,310.5 1083.4,295.0 1083.9,310.5 1084.4,295.0 1084.9,310.5 1085.4,295.0 1085.9,308.5 1086.4,295.0 1086.9,308.5 1087.4,295.0 1087.9,308.5 1088.4,295.0 1088.9,308.5 1089.4,263.0 1089.9,308.5 1090.4,263.0 1090.9,308.5 1091.4,246.2 1091.9,308.5 1092.4,263.0 1092.9,308.5 1093.4,263.0 1093.9,308.5 1094.4,263.0 1094.9,308.5 1095.4,263.0 1095.9,336.3 1096.4,263.0 1096.9,336.3 1097.4,263.0 1097.9,326.7 1098.4,263.0 1098.9,305.0 1099.4,227.2 1099.9,305.0 1100.4,227.2 1100.9,305.0 1101.4,227.2 1101.9,305.0 1102.4,227.2 1102.9,305.0 1103.4,221.0 1103.9,305.0 1104.4,221.0 1104.9,305.0 1105.4,227.2 1105.9,305.0 1106.4,227.2 1106.9,305.0 1107.4,227.2 1107.9,305.0 1108.4,227.2 1108.9,305.0 1109.4,227.2 1109.9,305.0 1110.4,249.0 1110.9,305.0 1111.4,266.0 1111.9,323.7 1112.4,266.0 1112.9,323.7 1113.4,266.0 1113.9,323.7 1114.4,266.0 1114.9,323.7 1115.4,266.0 1115.9,323.7 1116.4,266.0 1116.9,336.3 1117.4,266.0 1117.9,336.3 1118.4,266.0 1118.9,326.7 1119.4,262.0 1119.9,326.7 1120.4,262.0 1120.9,326.7 1121.4,262.0 1121.9,326.7 1122.4,262.0 1122.9,326.7 1123.4,262.0 1123.9,308.5 1124.4,227.2 1124.9,308.5 1125.4,227.2 1125.9,308.5 1126.4,259.0 1126.9,308.5 1127.4,259.0 1127.9,308.5 1128.4,259.0 1128.9,308.5 1129.4,259.0 1129.9,308.5 1130.4,259.0 1130.9,308.5 1131.4,259.0 1131.9,308.5 1132.4,259.0 1132.9,308.5 1133.4,259.0 1133.9,306.5 1134.4,246.2 1134.9,306.5 1135.4,246.2 1135.9,306.5 1136.4,220.0 1136.9,306.5 1137.4,262.0 1137.9,306.5 1138.4,262.0 1138.9,306.5 1139.4,262.0 1139.9,306.5 1140.4,262.0 1140.9,306.5 1141.4,262.0 1141.9,336.3 1142.4,264.0 1142.9,310.5 1143.4,264.0 1143.9,310.5 1144.4,264.0 1144.9,310.5 1145.4,264.0 1145.9,310.5 1146.4,293.0 1146.9,310.5 1147.4,293.0 1147.9,310.5 1148.4,293.0 1148.9,308.5 1149.4,293.0 1149.9,308.5 1150.4,293.0 1150.9,308.5 1151.4,293.0 1151.9,308.5 1152.4,293.0 1152.9,308.5 1153.4,293.0 1153.9,308.5 1154.4,293.0 1154.9,308.5 1155.4,293.0 1155.9,326.7 1156.4,220.0 1156.9,326.7 1157.4,259.0 1157.9,326.7 1158.4,259.0 1158.9,326.7 1159.4,259.0 1159.9,336.3 1160.4,259.0 1160.9,336.3 1161.4,259.0 1161.9,323.7 1162.4,259.0 1162.9,323.7 1163.4,259.0 1163.9,323.7 1164.4,259.0 1164.9,323.7 1165.4,259.0 1165.9,323.7 1166.4,259.0 1166.9,323.7 1167.4,259.0 1167.9,323.7 1168.4,259.0 1168.9,336.3 1169.4,227.2 1169.9,305.0 1170.4,227.2 1170.9,305.0 1171.4,227.2 1171.9,305.0 1172.4,227.2 1172.9,305.0 1173.4,221.0 1173.9,305.0 1174.4,249.0 1174.9,305.0 1175.4,249.0 1175.9,305.0 1176.4,249.0 1176.9,305.0 1177.4,263.0 1177.9,305.0 1178.4,263.0 1178.9,305.0 1179.4,263.0 1179.9,305.0 1180.4,263.0 1180.9,305.0 1181.4,263.0 1181.9,305.0 1182.4,263.0 1182.9,305.0 1183.4,263.0 1183.9,308.5 1184.4,263.0 1184.9,308.5 1185.4,242.5 1185.9,308.5 1186.4,266.0 1186.9,308.5 1187.4,266.0 1187.9,308.5 1188.4,266.0 1188.9,308.5 1189.4,266.0 1189.9,309.0 1190.4,267.5 1190.9,326.7 1191.4,267.5 1191.9,326.7 1192.4,267.5 1192.9,308.8 1193.4,267.5 1194.1,1224.5 1194.6,1321.5 1195.1,1224.5 1195.6,1321.5 1196.1,1224.5 1196.6,1367.7 1197.1,1224.5 1197.6,1367.7 1198.1,1228.0 1198.6,1367.7 1199.1,1228.0 1199.6,1367.7 1200.1,1228.0 1200.6,1321.5 1201.1,1228.0 1201.6,1321.5 1202.1,1228.0 1202.6,1321.5 1203.1,1228.0 1203.6,1321.5 1204.1,1228.0 1204.6,1321.5 1205.1,1228.0 1205.6,1321.5 1206.1,1228.0 1206.6,1321.5 1207.1,1228.0 1207.6,1321.5 1208.1,1228.0 1208.6,1321.5 1209.1,1224.5 1209.6,1321.5 1210.1,1224.5 1210.6,1321.5 1211.1,1224.5 1211.6,1321.5 1212.1,1224.5 1212.6,1321.5 1213.1,1224.5 1213.6,1321.5 1214.1,1224.5 1214.6,1321.5 1215.1,1224.5 1215.6,1321.5 1216.1,1224.5 1216.6,1321.5 1217.1,1224.5 1217.6,1321.5 1218.1,1224.5 1218.6,1321.5 1219.1,1224.5 1219.6,1321.5 1220.1,1224.5 1220.6,1321.5 1221.1,1228.0 1221.6,1321.5 1222.1,1228.0 1222.6,1321.5 1223.1,1228.0 1223.6,1321.5 1224.1,1228.0 1224.6,1321.5 1225.1,1228.0 1225.6,1321.5 1226.1,1228.0 1226.6,1321.5 1227.1,1228.0 1227.6,1321.5 1228.1,1228.0 1228.6,1321.5 1229.1,1228.0 1229.6,1321.5 1230.1,1224.5 1230.6,1321.5 1231.1,1224.5 1231.6,1321.5 1232.1,1224.5 1232.6,1321.5 1233.1,1236.5 1233.6,1321.5 1234.1,1236.5 1234.6,1321.5 1235.1,1236.5 1235.6,1321.5 1236.1,1236.5 1236.6,1321.5 1237.1,1236.5 1237.6,1321.5 1238.1,1236.5 1238.6,1321.5 1239.1,1236.5 1239.6,1321.5 1240.1,1236.5 1240.6,1321.5 1241.1,1236.5 1241.6,1321.5 1242.1,1228.0 1242.6,1321.5 1243.1,1228.0 1243.6,1321.5 1244.1,1228.0 1244.6,1321.5 1245.1,1228.0 1245.6,1321.5 1246.1,1228.0 1246.6,1321.5 1247.1,1228.0 1247.6,1321.5 1248.1,1228.0 1248.6,1321.5 1249.1,1228.0 1249.6,1321.5 1250.1,1228.0 1250.6,1367.7 1251.1,1228.0 1251.6,1321.5 1252.1,1228.0 1252.6,1321.5 1253.1,1228.0 1253.6,1321.5 1254.1,1228.0 1254.6,1321.5 1255.1,1228.0 1255.6,1321.5 1256.1,1228.0 1256.6,1321.5 1257.1,1228.0 1257.6,1321.5 1258.1,1228.0 1258.6,1321.5 1259.1,1224.5 1259.6,1321.5 1260.1,1224.5 1260.6,1321.5 1261.1,1224.5 1261.6,1321.5 1262.1,1224.5 1262.6,1321.5 1263.1,1224.5 1263.6,1321.5 1264.1,1224.5 1264.6,1321.5 1265.1,1224.5 1265.6,1367.7 1266.1,1224.5 1266.6,1321.5 1267.1,1228.0 1267.6,1321.5 1268.1,1228.0 1268.6,1321.5 1269.1,1228.0 1269.6,1321.5 1270.1,1228.0 1270.6,1321.5 1271.1,1228.0 1271.6,1321.5 1272.1,1228.0 1272.6,1321.5 1273.1,1228.0 1273.6,1321.5 1274.1,1228.0 1274.6,1321.5 1275.1,1228.0 1275.6,1321.5 1276.1,1228.0 1276.6,1321.5 1277.1,1224.5 1277.6,1321.5 1278.1,1224.5 1278.6,1321.5 1279.1,1224.5 1279.6,1321.5 1280.1,1224.5 1280.6,1321.5 1281.1,1224.5 1281.6,1321.5 1282.1,1224.5 1282.6,1321.5 1283.1,1224.5 1283.6,1321.5 1284.1,1224.5 1284.6,1321.5 1285.1,1224.5 1285.6,1321.5 1286.1,1224.5 1286.6,1321.5 1287.1,1224.5 1287.6,1321.5 1288.1,1228.0 1288.6,1321.5 1289.1,1228.0 1289.6,1321.5 1290.1,1228.0 1290.6,1321.5 1291.1,1228.0 1291.6,1321.5 1292.1,1228.0 1292.6,1321.5 1293.1,1228.0 1293.6,1321.5 1294.1,1228.0 1294.6,1321.5 1295.1,1228.0 1295.6,1321.5 1296.1,1228.0 1296.6,1321.5 1297.1,1228.0 1297.6,1321.5 1298.1,1228.0 1298.6,1321.5 1299.1,1228.0 1299.6,1321.5 1300.1,1228.0 1300.6,1321.5 1301.1,1228.0 1301.6,1321.5 1302.1,1228.0 1302.6,1321.5 1303.1,1228.0 1303.6,1321.5 1304.1,1228.0 1304.6,1321.5 1305.1,1228.0 1305.6,1321.5 1306.1,1228.0 1306.6,1321.5 1307.1,1228.0 1307.6,1321.5 1308.1,1228.0 1308.6,1321.5 1309.1,1224.5 1309.6,1321.5 1310.1,1224.5 1310.6,1321.5 1311.1,1224.5 1311.6,1321.5 1312.1,1236.5 1312.6,1321.5 1313.1,1236.5 1313.6,1321.5 1314.1,1236.5 1314.6,1321.5 1315.1,1236.5 1315.6,1321.5 1316.1,1236.5 1316.6,1321.5 1317.1,1236.5 1317.6,1321.5 1318.1,1236.5 1318.6,1321.5 1319.1,1236.5 1319.6,1321.5 1320.1,1236.5 1320.6,1321.5 1321.1,1224.5 1321.6,1321.5 1322.1,1224.5 1322.6,1321.5 1323.1,1224.5 1323.6,1321.5 1324.1,1232.5 1324.6,1321.5 1325.1,1232.5 1325.6,1321.5 1326.1,1232.5 1326.6,1321.5 1327.1,1232.5 1327.6,1367.7 1328.1,1232.5 1328.6,1321.5 1329.1,1232.5 1329.6,1321.5 1330.1,1232.5 1330.6,1321.5 1331.1,1224.5 1331.6,1321.5 1332.1,1224.5 1332.6,1321.5 1333.1,1224.5 1333.6,1321.5 1334.1,1224.5 1334.6,1321.5 1335.1,1224.5 1335.6,1321.5 1336.1,1232.5 1336.6,1367.7 1337.1,1232.5 1337.6,1321.5 1338.1,1232.5 1338.6,1321.5 1339.1,1232.5 1339.6,1321.5 1340.1,1232.5 1340.6,1321.5 1341.1,1232.5 1341.6,1321.5 1342.1,1232.5 1342.6,1321.5 1343.1,1232.5 1343.6,1321.5 1344.1,1236.5 1344.6,1321.5 1345.1,1236.5 1345.6,1321.5 1346.1,1236.5 1346.6,1321.5 1347.1,1236.5 1347.6,1321.5 1348.1,1236.5 1348.6,1321.5 1349.1,1236.5 1349.6,1367.7 1350.1,1236.5 1350.6,1321.5 1351.1,1236.5 1351.6,1321.5 1352.1,1224.5 1352.6,1321.5 1353.1,1224.5 1353.6,1321.5 1354.1,1228.0 1354.6,1321.5 1355.1,1228.0 1355.6,1321.5 1356.1,1228.0 1356.6,1321.5 1357.1,1228.0 1357.6,1321.5 1358.1,1228.0 1358.6,1321.5 1359.1,1228.0 1359.6,1321.5 1360.1,1228.0 1360.6,1321.5 1361.1,1228.0 1361.6,1321.5 1362.1,1228.0 1362.6,1321.5 1363.1,1228.0 1363.6,1321.5 1364.1,1224.5 1364.6,1367.7 1365.1,1224.5 1365.6,1321.5 1366.1,1224.5 1366.6,1321.5 1367.1,1228.0 1367.6,1321.5 1368.1,1228.0 1368.6,1321.5 1369.1,1228.0 1369.6,1321.5 1370.1,1228.0 1370.6,1321.5 1371.1,1228.0 1371.6,1321.5 1372.1,1228.0 1372.6,1321.5 1373.1,1228.0 1373.6,1321.5 1374.1,1228.0 1374.6,1321.5 1375.1,1228.0 1375.6,1321.5 1376.1,1224.5 1376.6,1367.7 1377.1,1224.5 1377.6,1321.5 1378.1,1224.5 1378.6,1321.5 1379.1,1224.5 1379.6,1321.5 1380.1,1224.5 1380.6,1321.5 1381.1,1224.5 1381.6,1321.5 1382.1,1224.5 1382.6,1321.5 1383.1,1224.5 1383.6,1321.5 1384.1,1228.0 1384.6,1321.5 1385.1,1228.0 1385.6,1321.5 1386.1,1228.0 1386.6,1321.5 1387.1,1228.0 1387.6,1321.5 1388.1,1228.0 1388.6,1321.5 1389.1,1228.0 1389.6,1367.7 1390.1,1228.0 1390.6,1321.5 1391.1,1228.0 1391.6,1321.5 1392.1,1228.0 1392.6,1321.5 1393.1,1228.0 1393.6,1321.5 1394.1,1228.0 1394.6,1321.5 1395.1,1224.5 1395.6,1321.5 1396.1,1224.5 1396.6,1321.5 1397.1,1224.5 1397.6,1321.5 1398.1,1224.5 1398.6,1321.5 1399.1,1224.5 1399.6,1321.5 1400.1,1228.0 1400.6,1321.5 1401.1,1228.0 1401.6,1321.5 1402.1,1228.0 1402.6,1321.5 1403.1,1228.0 1403.6,1367.7 1404.1,1228.0 1404.6,1321.5 1405.1,1228.0 1405.6,1321.5 1406.1,1228.0 1406.6,1321.5 1407.1,1228.0 1407.6,1321.5 1408.1,1228.0 1408.6,1321.5 1409.1,1228.0 1409.6,1321.5 1410.1,1228.0 1410.6,1321.5 1411.1,1228.0 1411.6,1367.7 1412.1,1228.0 1412.6,1321.5 1413.1,1224.5 1413.6,1321.5 1414.1,1224.5 1414.6,1321.5 1415.1,1224.5 1415.6,1321.5 1416.1,1224.5 1416.6,1321.5 1417.1,1224.5 1417.6,1321.5 1418.1,1224.5 1418.6,1321.5 1419.1,1224.5 1419.6,1321.5 1420.1,1228.0 1420.6,1321.5 1421.1,1228.0 1421.6,1321.5 1422.1,1228.0 1422.6,1321.5 1423.1,1228.0 1423.6,1321.5 1424.1,1228.0 1424.6,1321.5 1425.1,1228.0 1425.6,1321.5 1426.1,1228.0 1426.6,1321.5 1427.1,1228.0 1427.6,1321.5 1428.1,1228.0 1428.6,1321.5 1429.1,1228.0 1429.6,1367.7 1430.1,1228.0 1430.6,1367.7 1431.1,1228.0 1431.6,1321.5 1432.1,1228.0 1432.6,1321.5 1433.1,1224.5 1433.6,1321.5 1434.1,1228.0 1434.6,1321.5 1435.1,1228.0 1435.6,1321.5 1436.1,1228.0 1436.6,1321.5 1437.1,1228.0 1437.6,1321.5 1438.1,1228.0 1438.6,1321.5 1439.1,1228.0 1439.6,1321.5 1440.1,1228.0 1440.6,1321.5 1441.1,1228.0 1441.6,1367.7 1442.1,1228.0 1442.6,1367.7 1443.1,1228.0 1443.6,1367.7 1444.1,1228.0 1444.6,1367.7 1445.1,1228.0 1445.6,1367.7 1446.1,1228.0 1446.6,1367.7 1447.1,1224.5 1447.6,1321.5 1448.1,1224.5 1448.6,1321.5 1449.1,1224.5 1449.6,1321.5 1450.1,1224.5 1450.6,1321.5 1451.1,1224.5 1451.6,1321.5 1452.1,1224.5 1452.6,1321.5 1453.1,1224.5 1453.6,1321.5 1454.1,1224.5 1454.6,1321.5 1455.1,1224.5 1455.6,1321.5 1456.1,1224.5 1456.6,1321.5 1457.1,1224.5 1457.6,1321.5 1458.1,1224.5 1458.6,1321.5 1459.1,1228.0 1459.6,1321.5 1460.1,1228.0 1460.6,1321.5 1461.1,1228.0 1461.6,1321.5 1462.1,1228.0 1462.6,1321.5 1463.1,1228.0 1463.6,1367.7 1464.1,1228.0 1464.6,1367.7 1465.1,1228.0 1465.6,1321.5 1466.1,1228.0 1466.6,1321.5 1467.1,1228.0 1467.6,1321.5 1468.1,1228.0 1468.6,1321.5 1469.1,1224.5 1469.6,1321.5 1470.1,1224.5 1470.6,1321.5 1471.1,1224.5 1471.6,1321.5 1472.1,1224.5 1472.6,1321.5 1473.1,1224.5 1473.6,1321.5 1474.1,1224.5 1474.6,1321.5 1475.1,1224.5 1475.6,1321.5 1476.1,1224.5 1476.6,1321.5 1477.1,1224.5 1477.6,1321.5 1478.1,1224.5 1478.6,1321.5 1479.1,1224.5 1479.6,1321.5 1480.1,1232.5 1480.6,1321.5 1481.1,1232.5 1481.6,1321.5 1482.1,1232.5 1482.6,1367.7 1483.1,1232.5 1483.6,1321.5 1484.1,1232.5 1484.6,1321.5 1485.1,1232.5 1485.6,1321.5 1486.1,1232.5 1486.6,1321.5 1487.1,1224.5 1487.6,1321.5 1488.1,1224.5 1488.6,1321.5 1489.1,1224.5 1489.6,1321.5 1490.1,1224.5 1490.6,1321.5 1491.1,1224.5 1491.6,1321.5 1492.1,1224.5 1492.6,1321.5 1493.1,1224.5 1493.6,1321.5 1494.1,1224.5 1494.6,1321.5 1495.1,1224.5 1495.6,1321.5 1496.1,1224.5 1496.6,1321.5 1497.1,1224.5 1497.6,1321.5 1498.8,263.6 1499.3,305.0 1499.8,263.6 1500.3,305.0 1500.8,262.3 1501.3,305.0 1501.8,262.3 1502.3,305.0 1502.8,262.3 1503.3,305.0 1503.8,262.3 1504.3,305.0 1504.8,262.3 1505.3,305.0 1505.8,262.3 1506.3,305.0 1506.8,262.3 1507.3,305.0 1507.8,262.3 1508.3,326.7 1508.8,227.2 1509.3,304.0 1509.8,227.2 1510.3,304.0 1510.8,249.0 1511.3,304.0 1511.8,249.0 1512.3,304.0 1512.8,249.0 1513.3,304.0 1513.8,249.0 1514.3,304.0 1514.8,249.0 1515.3,304.0 1515.8,249.0 1516.3,310.7 1516.8,249.0 1517.3,310.7 1517.8,249.0 1518.3,310.7 1518.8,249.0 1519.3,310.7 1519.8,221.0 1520.3,310.7 1520.8,221.0 1521.3,310.7 1521.8,262.0 1522.3,310.7 1522.8,295.0 1523.3,310.7 1523.8,295.0 1524.3,308.5 1524.8,295.0 1525.3,308.5 1525.8,295.0 1526.3,308.5 1526.8,295.0 1527.3,308.5 1527.8,295.0 1528.3,308.5 1528.8,295.0 1529.3,308.5 1529.8,295.0 1530.3,308.5 1530.8,264.0 1531.3,308.5 1531.8,264.0 1532.3,308.5 1532.8,264.0 1533.3,308.5 1533.8,264.0 1534.3,305.0 1534.8,264.0 1535.3,305.0 1535.8,246.2 1536.3,305.0 1536.8,246.2 1537.3,305.0 1537.8,285.0 1538.3,305.0 1538.8,285.0 1539.3,305.0 1539.8,285.0 1540.3,305.0 1540.8,285.0 1541.3,305.0 1541.8,285.0 1542.3,305.0 1542.8,285.0 1543.3,305.0 1543.8,285.0 1544.3,308.5 1544.8,285.0 1545.3,308.5 1545.8,258.0 1546.3,308.5 1546.8,265.0 1547.3,308.5 1547.8,265.0 1548.3,308.5 1548.8,265.0 1549.3,305.0 1549.8,265.0 1550.3,305.0 1550.8,265.0 1551.3,305.0 1551.8,265.0 1552.3,305.0 1552.8,265.0 1553.3,305.0 1553.8,265.0 1554.3,305.0 1554.8,265.0 1555.3,305.0 1555.8,265.0 1556.3,305.0 1556.8,262.3 1557.3,305.0 1557.8,262.3 1558.3,305.0 1558.8,262.3 1559.3,305.0 1559.8,249.0 1560.3,305.0 1560.8,259.0 1561.3,305.0 1561.8,259.0 1562.3,305.0 1562.8,259.0 1563.3,305.0 1563.8,259.0 1564.3,305.0 1564.8,259.0 1565.3,305.0 1565.8,259.0 1566.3,305.0 1566.8,259.0 1567.3,305.0 1567.8,259.0 1568.3,305.0 1568.8,259.0 1569.3,305.0 1569.8,259.0 1570.3,305.0 1570.8,258.0 1571.3,308.5 1571.8,295.0 1572.3,308.5 1572.8,295.0 1573.3,308.5 1573.8,295.0 1574.3,308.5 1574.8,295.0 1575.3,308.5 1575.8,295.0 1576.3,308.5 1576.8,295.0 1577.3,311.0 1577.8,295.0 1578.3,341.7 1578.8,295.0 1579.3,341.7 1579.8,264.0 1580.3,341.7 1580.8,264.0 1581.3,341.7 1581.8,264.0 1582.3,341.7 1582.8,259.0 1583.3,326.7 1583.8,259.0 1584.3,308.5 1584.8,220.0 1585.3,304.0 1585.8,262.0 1586.3,304.0 1586.8,262.0 1587.3,304.0 1587.8,262.0 1588.3,304.0 1588.8,262.0 1589.3,304.0 1589.8,266.0 1590.3,304.0 1590.8,266.0 1591.3,304.0 1591.8,266.0 1592.3,304.0 1592.8,266.0 1593.3,304.0 1593.8,266.0 1594.3,304.0 1594.8,266.0 1595.3,307.5 1595.8,266.0 1596.3,305.0 1596.8,266.0 1597.3,305.0 1597.8,260.0 1598.3,305.0 1598.8,260.0 1599.3,305.0 1599.8,262.5 1600.3,305.0 1600.8,262.5 1601.3,305.0 1601.8,262.5 1602.3,305.0 1602.8,262.5 1603.3,305.0 1603.8,262.5 1604.3,305.0 1604.8,262.5 1605.3,305.0 1605.8,262.5 1606.3,305.0 1606.8,262.5 1607.3,305.0 1607.8,221.0 1608.3,310.7 1608.8,262.0 1609.3,310.7 1609.8,262.0 1610.3,310.7 1610.8,262.0 1611.3,310.7 1611.8,262.0 1612.3,336.3 1612.8,262.0 1613.3,336.3 1613.8,262.5 1614.3,336.3 1614.8,262.5 1615.3,336.3 1615.8,262.5 1616.3,305.0 1616.8,262.5 1617.3,305.0 1617.8,262.5 1618.3,305.0 1618.8,262.5 1619.3,305.0 1619.8,262.5 1620.3,305.0 1620.8,262.5 1621.3,305.0 1621.8,262.5 1622.3,305.0 1622.8,262.5 1623.3,336.3 1623.8,262.5 1624.3,311.0 1624.8,262.5 1625.3,311.0 1625.8,255.0 1626.3,311.0 1626.8,249.0 1627.3,311.0 1627.8,249.0 1628.3,311.0 1628.8,249.0 1629.3,311.0 1629.8,249.0 1630.3,311.0 1630.8,249.0 1631.3,341.7 1631.8,249.0 1632.3,308.5 1632.8,249.0 1633.3,308.5 1633.8,249.0 1634.3,308.5 1634.8,259.0 1635.3,308.5 1635.8,259.0 1636.3,308.5 1636.8,259.0 1637.3,305.0 1637.8,259.0 1638.3,305.0 1638.8,259.0 1639.3,305.0 1639.8,259.0 1640.3,305.0 1640.8,259.0 1641.3,305.0 1641.8,259.0 1642.3,305.0 1642.8,259.0 1643.3,305.0 1643.8,259.0 1644.3,305.0 1644.8,262.0 1645.3,307.5 1645.8,262.0 1646.3,307.5 1646.8,262.0 1647.3,310.7 1647.8,262.0 1648.3,310.7 1648.8,288.0 1649.3,310.7 1649.8,288.0 1650.3,310.7 1650.8,288.0 1651.3,310.7 1651.8,295.0 1652.3,326.7 1652.8,295.0 1653.3,326.7 1653.8,295.0 1654.3,310.7 1654.8,295.0 1655.3,310.7 1655.8,295.0 1656.3,310.7 1656.8,295.0 1657.3,310.7 1657.8,295.0 1658.3,307.5 1658.8,295.0 1659.3,307.5 1659.8,288.0 1660.3,307.5 1660.8,227.2 1661.3,307.5 1661.8,263.0 1662.3,307.5 1662.8,263.0 1663.3,307.5 1663.8,263.0 1664.3,307.5 1664.8,263.0 1665.3,307.5 1665.8,263.0 1666.3,307.5 1666.8,263.0 1667.3,307.5 1667.8,263.0 1668.3,307.5 1668.8,263.0 1669.3,307.5 1669.8,220.0 1670.3,307.5 1670.8,242.5 1671.3,308.5 1671.8,242.5 1672.3,308.5 1672.8,242.5 1673.3,308.5 1673.8,242.5 1674.3,308.5 1674.8,249.0 1675.3,308.5 1675.8,249.0 1676.3,307.5 1676.8,249.0 1677.3,307.5 1677.8,249.0 1678.3,307.5 1678.8,249.0 1679.3,307.5 1679.8,249.0 1680.3,307.5 1680.8,249.0 1681.3,305.0 1681.8,249.0 1682.3,305.0 1682.8,263.0 1683.3,305.0 1683.8,263.0 1684.3,305.0 1684.8,263.0 1685.3,305.0 1685.8,263.0 1686.3,305.0 1686.8,263.0 1687.3,305.0 1687.8,263.0 1688.3,305.0 1688.8,263.0 1689.3,341.7 1689.8,263.0 1690.3,308.5 1690.8,263.0 1691.3,308.5 1691.8,263.0 1692.3,308.5 1692.8,263.0 1693.3,305.0 1693.8,263.0 1694.3,305.0 1694.8,227.2 1695.3,305.0 1695.8,227.2 1696.3,305.0 1696.8,227.2 1697.3,305.0 1697.8,227.2 1698.3,305.0 1698.8,227.2 1699.3,305.0 1699.8,259.0 1700.3,323.7 1700.8,259.0 1701.3,323.7 1701.8,259.0 1702.3,308.5 1702.8,259.0 1703.3,308.5 1703.8,267.0 1704.3,308.5 1704.8,267.0 1705.3,308.5 1705.8,267.0 1706.3,308.5 1706.8,267.0 1707.3,308.5 1707.8,267.0 1708.3,308.5 1708.8,267.0 1709.3,308.5 1709.8,267.0 1710.3,309.0 1710.8,262.5 1711.3,309.0 1711.8,262.5 1712.3,309.0 1712.8,227.2 1713.3,310.7 1713.8,227.2 1714.3,310.7 1714.8,227.2 1715.3,310.7 1715.8,227.2 1716.3,310.7 1716.8,227.2 1717.3,323.7 1717.8,227.2 1718.3,323.7 1718.8,227.2 1719.3,323.7 1719.8,227.2 1720.3,323.7 1720.8,227.2 1721.3,323.7 1721.8,227.2 1722.3,323.7 1722.8,227.2 1723.3,323.7 1723.8,220.0 1724.3,326.7 1724.8,266.0 1725.3,341.7 1725.8,266.0 1726.3,326.7 1726.8,266.0 1727.3,326.7 1727.8,266.0 1728.3,310.7 1728.8,266.0 1729.3,310.7 1729.8,266.0 1730.3,305.0 1730.8,266.0 1731.3,305.0 1731.8,266.0 1732.3,305.0 1732.8,262.0 1733.3,305.0 1733.8,262.0 1734.3,305.0 1734.8,262.0 1735.3,305.0 1735.8,262.0 1736.3,305.0 1736.8,258.0 1737.3,308.5 1737.8,258.0 1738.3,308.5 1738.8,264.0 1739.3,308.5 1739.8,264.0 1740.3,341.7 1740.8,264.0 1741.3,341.7 1741.8,264.0 1742.3,341.7 1742.8,264.0 1743.3,341.7 1743.8,264.0 1744.3,341.7 1744.8,264.0 1745.3,341.7 1745.8,258.0 1746.3,341.7 1746.8,258.0 1747.3,341.7 1747.8,258.0 1748.3,310.5 1748.8,258.0 1749.3,310.5 1749.8,227.2 1750.3,310.5 1750.8,246.2 1751.3,310.5 1751.8,267.0 1752.3,310.5 1752.8,267.0 1753.3,310.5 1753.8,267.0 1754.3,308.5 1754.8,267.0 1755.3,308.5 1755.8,267.0 1756.3,308.5 1756.8,267.0 1757.3,308.5 1757.8,267.0 1758.3,308.5 1758.8,227.2 1759.3,308.5 1759.8,227.2 1760.3,308.5 1760.8,227.2 1761.3,308.5 1761.8,227.2 1762.3,308.5 1762.8,227.2 1763.3,323.7 1763.8,220.0 1764.3,310.5 1764.8,220.0 1765.3,310.5 1765.8,220.0 1766.3,310.5 1766.8,262.5 1767.3,310.5 1767.8,262.5 1768.3,310.5 1768.8,262.5 1769.3,310.5 1769.8,262.5 1770.3,310.5 1770.8,262.5 1771.3,310.5 1771.8,262.5 1772.3,310.5 1772.8,262.5 1773.3,310.5 1773.8,262.5 1774.3,310.5 1774.8,262.5 1775.3,310.5 1775.8,262.5 1776.3,308.5 1776.8,262.5 1777.3,308.5 1777.8,262.5 1778.3,305.0 1778.8,249.0 1779.3,305.0 1779.8,249.0 1780.3,305.0 1780.8,249.0 1781.3,305.0 1781.8,249.0 1782.3,305.0 1782.8,249.0 1783.3,305.0 1783.8,249.0 1784.3,305.0 1784.8,249.0 1785.3,305.0 1785.8,249.0 1786.3,305.0 1786.8,249.0 1787.3,305.0 1787.8,263.5 1788.3,305.0 1788.8,263.5 1789.3,305.0 1789.8,263.5 1790.3,307.5 1790.8,263.5 1791.3,307.5 1791.8,263.5 1792.3,307.5 1792.8,263.5 1793.3,307.5 1793.8,263.5 1794.3,307.5 1794.8,263.5 1795.3,307.5 1795.8,263.5 1796.3,307.5 1796.8,262.5 1797.3,307.5 1797.8,262.5 1798.3,310.5 1798.8,262.5 1799.3,310.5 1799.8,262.5 1800.3,310.5 1800.8,262.5 1801.3,310.5 1801.8,227.2 1802.5,1224.5 1803.0,1321.5 1803.5,1224.5 1804.0,1367.7 1804.5,1224.5 1805.0,1367.7 1805.5,1224.5 1806.0,1321.5 1806.5,1224.5 1807.0,1321.5 1807.5,1224.5 1808.0,1321.5 1808.5,1224.5 1809.0,1321.5 1809.5,1224.5 1810.0,1321.5 1810.5,1224.5 1811.0,1321.5 1811.5,1224.5 1812.0,1321.5 1812.5,1224.5 1813.0,1321.5 1813.5,1224.5 1814.0,1321.5 1814.5,1228.0 1815.0,1321.5 1815.5,1228.0 1816.0,1321.5 1816.5,1228.0 1817.0,1321.5 1817.5,1228.0 1818.0,1321.5 1818.5,1228.0 1819.0,1321.5 1819.5,1228.0 1820.0,1321.5 1820.5,1228.0 1821.0,1321.5 1821.5,1228.0 1822.0,1367.7 1822.5,1228.0 1823.0,1367.7 1823.5,1228.0 1824.0,1367.7 1824.5,1228.0 1825.0,1367.7 1825.5,1228.0 1826.0,1367.7 1826.5,1228.0 1827.0,1367.7 1827.5,1228.0 1828.0,1321.5 1828.5,1228.0 1829.0,1321.5 1829.5,1228.0 1830.0,1321.5 1830.5,1228.0 1831.0,1321.5 1831.5,1228.0 1832.0,1321.5 1832.5,1228.0 1833.0,1321.5 1833.5,1228.0 1834.0,1321.5 1834.5,1228.0 1835.0,1321.5 1835.5,1228.0 1836.0,1321.5 1836.5,1228.0 1837.0,1321.5 1837.5,1224.5 1838.0,1321.5 1838.5,1224.5 1839.0,1321.5 1839.5,1228.0 1840.0,1321.5 1840.5,1228.0 1841.0,1321.5 1841.5,1228.0 1842.0,1321.5 1842.5,1228.0 1843.0,1321.5 1843.5,1228.0 1844.0,1321.5 1844.5,1228.0 1845.0,1321.5 1845.5,1228.0 1846.0,1321.5 1846.5,1228.0 1847.0,1321.5 1847.5,1228.0 1848.0,1321.5 1848.5,1228.0 1849.0,1321.5 1849.5,1224.5 1850.0,1321.5 1850.5,1224.5 1851.0,1321.5 1851.5,1224.5 1852.0,1321.5 1852.5,1224.5 1853.0,1321.5 1853.5,1224.5 1854.0,1321.5 1854.5,1224.5 1855.0,1321.5 1855.5,1224.5 1856.0,1321.5 1856.5,1224.5 1857.0,1321.5 1857.5,1224.5 1858.0,1367.7 1858.5,1224.5 1859.0,1367.7 1859.5,1224.5 1860.0,1321.5 1860.5,1224.5 1861.0,1321.5 1861.5,1228.0 1862.0,1321.5 1862.5,1228.0 1863.0,1321.5 1863.5,1228.0 1864.0,1321.5 1864.5,1228.0 1865.0,1321.5 1865.5,1228.0 1866.0,1321.5 1866.5,1228.0 1867.0,1321.5 1867.5,1228.0 1868.0,1321.5 1868.5,1228.0 1869.0,1321.5 1869.5,1228.0 1870.0,1321.5 1870.5,1228.0 1871.0,1321.5 1871.5,1224.5 1872.0,1321.5 1872.5,1228.0 1873.0,1321.5 1873.5,1228.0 1874.0,1321.5 1874.5,1228.0 1875.0,1321.5 1875.5,1228.0 1876.0,1321.5 1876.5,1228.0 1877.0,1321.5 1877.5,1228.0 1878.0,1321.5 1878.5,1228.0 1879.0,1321.5 1879.5,1228.0 1880.0,1321.5 1880.5,1228.0 1881.0,1321.5 1881.5,1224.5 1882.0,1367.7 1882.5,1224.5 1883.0,1321.5 1883.5,1228.0 1884.0,1321.5 1884.5,1228.0 1885.0,1321.5 1885.5,1228.0 1886.0,1321.5 1886.5,1228.0 1887.0,1321.5 1887.5,1228.0 1888.0,1321.5 1888.5,1228.0 1889.0,1321.5 1889.5,1228.0 1890.0,1321.5 1890.5,1228.0 1891.0,1367.7 1891.5,1228.0 1892.0,1321.5 1892.5,1228.0 1893.0,1321.5 1893.5,1228.0 1894.0,1321.5 1894.5,1228.0 1895.0,1321.5 1895.5,1228.0 1896.0,1321.5 1896.5,1224.5 1897.0,1321.5 1897.5,1224.5 1898.0,1321.5 1898.5,1224.5 1899.0,1321.5 1899.5,1224.5 1900.0,1321.5 1900.5,1224.5 1901.0,1321.5 1901.5,1224.5 1902.0,1321.5 1902.5,1224.5 1903.0,1321.5 1903.5,1224.5 1904.0,1321.5 1904.5,1224.5 1905.0,1321.5 1905.5,1228.0 1906.0,1321.5 1906.5,1228.0 1907.0,1321.5 1907.5,1228.0 1908.0,1321.5 1908.5,1228.0 1909.0,1321.5 1909.5,1228.0 1910.0,1321.5 1910.5,1228.0 1911.0,1321.5 1911.5,1228.0 1912.0,1321.5 1912.5,1228.0 1913.0,1321.5 1913.5,1228.0 1914.0,1321.5 1914.5,1228.0 1915.0,1321.5 1915.5,1228.0 1916.0,1321.5 1916.5,1228.0 1917.0,1321.5 1917.5,1228.0 1918.0,1321.5 1918.5,1224.5 1919.0,1321.5 1919.5,1224.5 1920.0,1321.5 1920.5,1228.0 1921.0,1321.5 1921.5,1228.0 1922.0,1367.7 1922.5,1228.0 1923.0,1321.5 1923.5,1228.0 1924.0,1321.5 1924.5,1228.0 1925.0,1321.5 1925.5,1228.0 1926.0,1321.5 1926.5,1228.0 1927.0,1321.5 1927.5,1228.0 1928.0,1321.5 1928.5,1228.0 1929.0,1321.5 1929.5,1224.5 1930.0,1321.5 1930.5,1224.5 1931.0,1321.5 1931.5,1224.5 1932.0,1321.5 1932.5,1224.5 1933.0,1321.5 1933.5,1224.5 1934.0,1321.5 1934.5,1224.5 1935.0,1321.5 1935.5,1228.0 1936.0,1321.5 1936.5,1228.0 1937.0,1321.5 1937.5,1228.0 1938.0,1321.5 1938.5,1228.0 1939.0,1321.5 1939.5,1228.0 1940.0,1321.5 1940.5,1228.0 1941.0,1321.5 1941.5,1228.0 1942.0,1321.5 1942.5,1228.0 1943.0,1321.5 1943.5,1228.0 1944.0,1321.5 1944.5,1224.5 1945.0,1321.5 1945.5,1224.5 1946.0,1321.5 1946.5,1224.5 1947.0,1321.5 1947.5,1224.5 1948.0,1367.7 1948.5,1224.5 1949.0,1321.5 1949.5,1228.0 1950.0,1321.5 1950.5,1228.0 1951.0,1321.5 1951.5,1228.0 1952.0,1321.5 1952.5,1228.0 1953.0,1321.5 1953.5,1228.0 1954.0,1321.5 1954.5,1228.0 1955.0,1321.5 1955.5,1228.0 1956.0,1321.5 1956.5,1228.0 1957.0,1321.5 1957.5,1228.0 1958.0,1321.5 1958.5,1224.5 1959.0,1321.5 1959.5,1224.5 1960.0,1321.5 1960.5,1224.5 1961.0,1321.5 1961.5,1224.5 1962.0,1321.5 1962.5,1232.5 1963.0,1321.5 1963.5,1232.5 1964.0,1321.5 1964.5,1232.5 1965.0,1321.5 1965.5,1232.5 1966.0,1321.5 1966.5,1232.5 1967.0,1321.5 1967.5,1232.5 1968.0,1321.5 1968.5,1232.5 1969.0,1321.5 1969.5,1232.5 1970.0,1321.5 1970.5,1232.5 1971.0,1321.5 1971.5,1232.5 1972.0,1321.5 1972.5,1224.5 1973.0,1321.5 1973.5,1224.5 1974.0,1321.5 1974.5,1224.5 1975.0,1321.5 1975.5,1224.5 1976.0,1321.5 1976.5,1224.5 1977.0,1321.5 1977.5,1224.5 1978.0,1321.5 1978.5,1224.5 1979.0,1321.5 1979.5,1224.5 1980.0,1321.5 1980.5,1224.5 1981.0,1321.5 1981.5,1228.0 1982.0,1321.5 1982.5,1228.0 1983.0,1321.5 1983.5,1228.0 1984.0,1321.5 1984.5,1228.0 1985.0,1367.7 1985.5,1228.0 1986.0,1367.7 1986.5,1228.0 1987.0,1321.5 1987.5,1228.0 1988.0,1321.5 1988.5,1228.0 1989.0,1321.5 1989.5,1228.0 1990.0,1321.5 1990.5,1228.0 1991.0,1321.5 1991.5,1228.0 1992.0,1321.5 1992.5,1228.0 1993.0,1321.5 1993.5,1228.0 1994.0,1321.5 1994.5,1228.0 1995.0,1321.5 1995.5,1228.0 1996.0,1321.5 1996.5,1228.0 1997.0,1321.5 1997.5,1228.0 1998.0,1321.5 1998.5,1228.0 1999.0,1321.5 1999.5,1228.0 2000.0,1321.5 2000.5,1228.0 2001.0,1321.5 2001.5,1228.0 2002.0,1321.5 2002.5,1224.5 2003.0,1321.5 2003.5,1224.5 2004.0,1321.5 2004.5,1224.5 2005.0,1321.5 2005.5,1224.5 2006.0,1321.5 2006.5,1224.5 2007.0,1321.5 2007.5,1224.5 2008.0,1321.5 2008.5,1224.5 2009.0,1321.5 2009.5,1224.5 2010.0,1367.7 2010.5,1224.5 2011.0,1321.5 2011.5,1224.5 2012.0,1321.5 2012.5,1224.5 2013.0,1321.5 2013.5,1224.5 2014.0,1321.5 2014.5,1224.5 2015.0,1321.5 2015.5,1224.5 2016.0,1321.5 2016.5,1228.0 2017.0,1321.5 2017.5,1228.0 2018.0,1321.5 2018.5,1228.0 2019.0,1321.5 2019.5,1228.0 2020.0,1321.5 2020.5,1228.0 2021.0,1367.7 2021.5,1228.0 2022.0,1321.5 2022.5,1228.0 2023.0,1321.5 2023.5,1228.0 2024.0,1321.5 2024.5,1228.0 2025.0,1321.5 2025.5,1228.0 2026.0,1321.5 2026.5,1228.0 2027.0,1321.5 2027.5,1228.0 2028.0,1321.5 2028.5,1228.0 2029.0,1321.5 2029.5,1228.0 2030.0,1321.5 2030.5,1228.0 2031.0,1321.5 2031.5,1228.0 2032.0,1321.5 2032.5,1228.0 2033.0,1321.5 2033.5,1228.0 2034.0,1321.5 2034.5,1228.0 2035.0,1321.5 2035.5,1228.0 2036.0,1321.5 2036.5,1228.0 2037.0,1321.5 2037.5,1228.0 2038.0,1321.5 2038.5,1224.5 2039.0,1321.5 2039.5,1224.5 2040.0,1321.5 2040.5,1224.5 2041.0,1321.5 2041.5,1224.5 2042.0,1321.5 2042.5,1224.5 2043.0,1321.5 2043.5,1224.5 2044.0,1321.5 2044.5,1224.5 2045.0,1321.5 2045.5,1224.5 2046.0,1321.5 2046.5,1224.5 2047.0,1321.5 2047.5,1224.5 2048.0,1321.5 2048.5,1224.5 2049.0,1367.7 2049.5,1228.0 2050.0,1367.7 2050.5,1228.0 2051.0,1321.5 2051.5,1228.0 2052.0,1321.5 2052.5,1228.0 2053.0,1321.5 2053.5,1228.0 2054.0,1321.5 2054.5,1228.0 2055.0,1321.5 2055.5,1228.0 2056.0,1321.5"/>
<polyline fill="none" stroke="#ff0000" stroke-width="7" stroke-linejoin="bevel" stroke-linecap="butt" points="281.5,703.5 282.0,741.0 282.5,703.5 283.0,741.0 283.5,703.5 284.0,755.0 284.5,703.5 285.0,755.0 285.5,703.5 286.0,762.0 286.5,693.0 287.0,762.0 287.5,712.0 288.0,762.0 288.5,712.0 289.0,762.0 289.5,712.0 290.0,762.0 290.5,712.0 291.0,762.0 291.5,712.0 292.0,762.0 292.5,712.0 293.0,762.0 293.5,712.0 294.0,762.0 294.5,708.0 295.0,762.0 295.5,708.0 296.0,762.0 296.5,708.0 297.0,762.0 297.5,698.0 298.0,762.0 298.5,709.5 299.0,762.0 299.5,709.5 300.0,762.0 300.5,709.5 301.0,762.0 301.5,709.5 302.0,762.0 302.5,711.5 303.0,762.0 303.5,711.5 304.0,762.0 304.5,711.5 305.0,762.0 305.5,711.5 306.0,762.0 306.5,711.5 307.0,769.5 307.5,711.5 308.0,769.5 308.5,711.5 309.0,752.0 309.5,711.5 310.0,752.0 310.5,708.0 311.0,752.0 311.5,708.0 312.0,752.0 312.5,708.0 313.0,752.0 313.5,708.0 314.0,752.0 314.5,708.0 315.0,752.0 315.5,693.0 316.0,752.0 316.5,703.5 317.0,752.0 317.5,703.5 318.0,773.0 318.5,703.5 319.0,773.0 319.5,707.5 320.0,773.0 320.5,707.5 321.0,773.0 321.5,707.5 322.0,773.0 322.5,707.5 323.0,773.0 323.5,707.5 324.0,759.0 324.5,707.5 325.0,759.0 325.5,707.5 326.0,759.0 326.5,707.5 327.0,759.0 327.5,712.0 328.0,759.0 328.5,712.0 329.0,759.0 329.5,712.0 330.0,759.0 330.5,712.0 331.0,759.0 331.5,714.0 332.0,759.0 332.5,725.0 333.0,762.0 333.5,725.0 334.0,762.0 334.5,725.0 335.0,762.0 335.5,725.0 336.0,762.0 336.5,725.0 337.0,762.0 337.5,725.0 338.0,769.5 338.5,725.0 339.0,769.5 339.5,719.5 340.0,769.5 340.5,719.5 341.0,769.5 341.5,719.5 342.0,769.5 342.5,708.0 343.0,769.5 343.5,708.0 344.0,773.0 344.5,708.0 345.0,752.0 345.5,708.0 346.0,752.0 346.5,708.0 347.0,752.0 347.5,708.0 348.0,752.0 348.5,708.0 349.0,752.0 349.5,708.0 350.0,752.0 350.5,708.0 351.0,752.0 351.5,708.0 352.0,752.0 352.5,708.0 353.0,752.0 353.5,708.0 354.0,757.0 354.5,708.0 355.0,757.0 355.5,708.0 356.0,757.0 356.5,708.0 357.0,769.5 357.5,693.0 358.0,769.5 358.5,703.5 359.0,769.5 359.5,703.5 360.0,769.5 360.5,703.5 361.0,769.5 361.5,703.5 362.0,769.5 362.5,712.5 363.0,769.5 363.5,712.5 364.0,769.5 364.5,712.5 365.0,769.5 365.5,712.5 366.0,769.5 366.5,712.5 367.0,773.0 367.5,712.5 368.0,773.0 368.5,712.5 369.0,773.0 369.5,712.5 370.0,773.0 370.5,710.5 371.0,773.0 371.5,710.5 372.0,773.0 372.5,710.5 373.0,773.0 373.5,710.5 374.0,773.0 374.5,710.5 375.0,773.0 375.5,710.5 376.0,773.0 376.5,710.5 377.0,773.0 377.5,710.5 378.0,757.0 378.5,710.5 379.0,757.0 379.5,710.5 380.0,757.0 380.5,710.5 381.0,757.0 381.5,710.5 382.0,757.0 382.5,707.8 383.0,757.0 383.5,707.8 384.0,757.0 384.5,707.8 385.0,757.0 385.5,707.8 386.0,757.0 386.5,707.8 387.0,757.0 387.5,707.8 388.0,757.0 388.5,707.8 389.0,757.0 389.5,703.0 390.0,757.0 390.5,693.0 391.0,762.0 391.5,709.5 392.0,762.0 392.5,709.5 393.0,769.5 393.5,709.5 394.0,769.5 394.5,709.5 395.0,769.5 395.5,709.5 396.0,769.5 396.5,709.5 397.0,769.5 397.5,709.5 398.0,769.5 398.5,709.5 399.0,769.5 399.5,709.5 400.0,773.0 400.5,709.5 401.0,755.0 401.5,709.5 402.0,755.0 402.5,709.5 403.0,755.0 403.5,698.0 404.0,755.0 404.5,698.0 405.0,755.0 405.5,698.0 406.0,755.0 406.5,698.0 407.0,755.0 407.5,698.0 408.0,755.0 408.5,693.0 409.0,769.5 409.5,698.0 410.0,769.5 410.5,698.0 411.0,752.0 411.5,698.0 412.0,742.0 412.5,698.0 413.0,742.0 413.5,698.0 414.0,742.0 414.5,698.0 415.0,742.0 415.5,698.0 416.0,742.0 416.5,698.0 417.0,742.0 417.5,698.0 418.0,742.0 418.5,698.0 419.0,742.0 419.5,703.5 420.0,752.0 420.5,703.5 421.0,752.0 421.5,703.5 422.0,752.0 422.5,703.5 423.0,752.0 423.5,703.5 424.0,752.0 424.5,703.5 425.0,773.5 425.5,703.5 426.0,773.5 426.5,703.5 427.0,757.5 427.5,698.0 428.0,757.5 428.5,709.0 429.0,757.5 429.5,709.0 430.0,757.5 430.5,718.0 431.0,757.5 431.5,721.5 432.0,757.5 432.5,721.5 433.0,757.5 433.5,721.5 434.0,757.5 434.5,721.5 435.0,757.5 435.5,721.5 436.0,756.0 436.5,721.5 437.0,756.0 437.5,721.5 438.0,756.0 438.5,715.0 439.0,756.0 439.5,715.0 440.0,752.0 440.5,711.0 441.0,752.0 441.5,711.0 442.0,752.0 442.5,711.0 443.0,752.0 443.5,708.0 444.0,752.0 444.5,708.0 445.0,749.0 445.5,708.0 446.0,749.0 446.5,708.0 447.0,749.0 447.5,708.0 448.0,749.0 448.5,693.0 449.0,749.0 449.5,693.0 450.0,749.0 450.5,693.0 451.0,749.0 451.5,693.0 452.0,749.0 452.5,698.0 453.0,749.0 453.5,698.0 454.0,755.5 454.5,698.0 455.0,755.5 455.5,703.5 456.0,755.5 456.5,703.5 457.0,755.5 457.5,712.0 458.0,755.5 458.5,712.0 459.0,755.5 459.5,712.0 460.0,755.5 460.5,712.0 461.0,755.5 461.5,712.0 462.0,767.0 462.5,712.0 463.0,767.0 463.5,712.0 464.0,767.0 464.5,712.0 465.0,767.0 465.5,712.0 466.0,773.5 466.5,712.0 467.0,773.5 467.5,708.5 468.0,773.5 468.5,707.5 469.0,773.5 469.5,707.5 470.0,773.5 470.5,707.5 471.0,773.5 471.5,707.5 472.0,762.0 472.5,713.5 473.0,762.0 473.5,713.5 474.0,762.0 474.5,713.5 475.0,762.0 475.5,713.5 476.0,762.0 476.5,713.5 477.0,762.0 477.5,713.5 478.0,762.0 478.5,713.5 479.0,762.0 479.5,713.5 480.0,762.0 480.5,713.5 481.0,762.0 481.5,708.0 482.0,762.0 482.5,708.0 483.0,762.0 483.5,708.0 484.0,762.0 484.5,708.0 485.0,762.0 485.5,708.0 486.0,762.0 486.5,708.0 487.0,762.0 487.5,708.0 488.0,773.0 488.5,707.5 489.0,773.0 489.5,693.0 490.0,762.0 490.5,698.0 491.0,762.0 491.5,698.0 492.0,762.0 492.5,698.0 493.0,762.0 493.5,698.0 494.0,762.0 494.5,698.0 495.0,752.0 495.5,698.0 496.0,752.0 496.5,698.0 497.0,752.0 497.5,698.0 498.0,752.0 498.5,698.0 499.0,752.0 499.5,703.5 500.0,752.0 500.5,703.5 501.0,752.0 501.5,703.5 502.0,769.5 502.5,703.5 503.0,769.5 503.5,710.0 504.0,762.0 504.5,710.0 505.0,762.0 505.5,710.0 506.0,762.0 506.5,710.0 507.0,762.0 507.5,710.0 508.0,762.0 508.5,710.0 509.0,762.0 509.5,710.0 510.0,762.0 510.5,703.5 511.0,756.0 511.5,703.5 512.0,756.0 512.5,703.5 513.0,756.0 513.5,703.5 514.0,756.0 514.5,703.5 515.0,756.0 515.5,703.5 516.0,756.0 516.5,693.0 517.0,756.0 517.5,693.0 518.0,769.5 518.5,708.0 519.0,769.5 519.5,708.0 520.0,769.5 520.5,708.0 521.0,769.5 521.5,708.0 522.0,769.5 522.5,708.0 523.0,769.5 523.5,708.0 524.0,769.5 524.5,708.0 525.0,769.5 525.5,708.0 526.0,769.5 526.5,708.0 527.0,769.5 527.5,708.0 528.0,773.0 528.5,708.0 529.0,773.0 529.5,708.0 530.0,773.0 530.5,708.0 531.0,773.0 531.5,708.0 532.0,773.0 532.5,708.0 533.0,773.0 533.5,703.5 534.0,773.0 534.5,703.5 535.0,773.0 535.5,703.5 536.0,741.0 536.5,703.5 537.0,741.0 537.5,703.5 538.0,741.0 538.5,703.5 539.0,741.0 539.5,703.5 540.0,741.0 540.5,703.5 541.0,741.0 541.5,703.5 542.0,741.0 542.5,703.5 543.0,741.0 543.5,698.0 544.0,762.0 544.5,698.0 545.0,762.0 545.5,698.0 546.0,756.0 546.5,698.0 547.0,756.0 547.5,698.0 548.0,756.0 548.5,698.0 549.0,756.0 549.5,693.0 550.0,756.0 550.5,703.5 551.0,756.0 551.5,710.0 552.0,756.0 552.5,710.0 553.0,756.0 553.5,710.0 554.0,769.5 554.5,710.0 555.0,769.5 555.5,710.0 556.0,769.5 556.5,710.0 557.0,769.5 557.5,710.0 558.0,773.0 558.5,710.0 559.0,762.0 559.5,693.0 560.0,762.0 560.5,693.0 561.0,762.0 561.5,693.0 562.0,762.0 562.5,693.0 563.0,762.0 563.5,693.0 564.0,752.0 564.5,693.0 565.0,752.0 565.5,693.0 566.0,752.0 566.5,693.0 567.0,752.0 567.5,693.0 568.0,752.0 568.5,693.0 569.0,752.0 569.5,710.0 570.0,752.0 570.5,710.0 571.0,752.0 571.5,710.0 572.0,757.0 572.5,710.0 573.0,757.0 573.5,710.0 574.0,757.0 574.5,710.0 575.0,773.0 575.5,710.0 576.0,752.0 576.5,710.0 577.0,752.0 577.5,710.0 578.0,752.0 578.5,710.0 579.0,750.0 579.5,710.0 580.0,750.0 580.5,708.0 581.0,750.0 581.5,708.0 582.0,750.0 582.5,708.0 583.0,750.0 583.5,708.0 584.0,750.0 584.5,708.0 585.0,750.0 585.7,276.0 586.2,355.0 586.7,276.0 587.2,355.0 587.7,260.0 588.2,322.2 588.7,233.2 589.2,322.2 589.7,233.2 590.2,322.2 590.7,309.0 591.2,322.2 591.7,309.0 592.2,322.2 592.7,309.0 593.2,322.2 593.7,309.0 594.2,322.2 594.7,309.0 595.2,322.2 595.7,309.0 596.2,322.2 596.7,309.0 597.2,322.2 597.7,309.0 598.2,322.2 598.7,275.0 599.2,322.2 599.7,275.0 600.2,322.2 600.7,275.0 601.2,322.2 601.7,275.0 602.2,322.2 602.7,275.0 603.2,322.2 603.7,275.0 604.2,349.8 604.7,260.0 605.2,349.8 605.7,260.0 606.2,349.8 606.7,260.0 607.2,349.8 607.7,260.0 608.2,349.8 608.7,233.2 609.2,349.8 609.7,262.0 610.2,349.8 610.7,262.0 611.2,349.8 611.7,262.0 612.2,349.8 612.7,262.0 613.2,349.8 613.7,262.0 614.2,339.5 614.7,262.0 615.2,339.5 615.7,262.0 616.2,339.5 616.7,277.0 617.2,339.5 617.7,277.0 618.2,339.5 618.7,277.0 619.2,339.5 619.7,277.0 620.2,339.5 620.7,277.0 621.2,339.5 621.7,277.0 622.2,322.2 622.7,277.0 623.2,322.2 623.7,277.0 624.2,322.2 624.7,262.0 625.2,322.2 625.7,262.0 626.2,322.2 626.7,262.0 627.2,322.2 627.7,262.0 628.2,322.2 628.7,256.0 629.2,322.2 629.7,256.0 630.2,322.2 630.7,256.0 631.6,1224.5 632.1,1321.5 632.6,1224.5 633.1,1321.5 633.6,1224.5 634.1,1321.5 634.6,1224.5 635.1,1367.7 635.6,1224.5 636.1,1321.5 636.6,1224.5 637.1,1321.5 637.6,1232.5 638.1,1321.5 638.6,1232.5 639.1,1321.5 639.6,1232.5 640.1,1321.5 640.6,1232.5 641.1,1321.5 641.6,1232.5 642.1,1321.5 642.6,1232.5 643.1,1321.5 643.6,1232.5 644.1,1321.5 644.6,1232.5 645.1,1321.5 645.6,1232.5 646.1,1321.5 646.6,1232.5 647.1,1367.7 647.6,1224.5 648.1,1367.7 648.6,1224.5 649.1,1321.5 649.6,1224.5 650.1,1321.5 650.6,1224.5 651.1,1321.5 651.6,1224.5 652.1,1321.5 652.6,1224.5 653.1,1321.5 653.6,1224.5 654.1,1321.5 654.6,1224.5 655.1,1321.5 655.6,1224.5 656.1,1321.5 656.6,1224.5 657.1,1321.5 657.6,1224.5 658.1,1321.5 658.6,1232.5 659.1,1321.5 659.6,1232.5 660.1,1321.5 660.6,1232.5 661.1,1321.5 661.6,1232.5 662.1,1321.5 662.6,1232.5 663.1,1321.5 663.6,1232.5 664.1,1321.5 664.6,1232.5 665.1,1321.5 665.6,1232.5 666.1,1321.5 666.6,1232.5 667.1,1321.5 667.6,1224.5 668.1,1321.5 668.6,1224.5 669.1,1367.7 669.6,1224.5 670.1,1367.7 670.6,1224.5 671.1,1321.5 671.6,1224.5 672.1,1321.5 672.6,1224.5 673.1,1321.5 673.6,1224.5 674.1,1321.5 674.6,1224.5 675.1,1321.5 675.6,1224.5 676.1,1321.5 676.6,1224.5 677.1,1321.5 677.6,1224.5 678.1,1321.5 678.6,1224.5 679.1,1321.5 679.6,1224.5 680.1,1321.5 680.6,1224.5 681.1,1321.5 681.6,1228.0 682.1,1367.7 682.6,1228.0 683.1,1367.7 683.6,1228.0 684.1,1367.7 684.6,1228.0 685.1,1367.7 685.6,1228.0 686.1,1367.7 686.6,1228.0 687.1,1321.5 687.6,1228.0 688.1,1321.5 688.6,1228.0 689.1,1321.5 689.6,1228.0 690.1,1321.5 690.6,1228.0 691.1,1321.5 691.6,1228.0 692.1,1321.5 692.6,1228.0 693.1,1321.5 693.6,1224.5 694.1,1321.5 694.6,1224.5 695.1,1321.5 695.6,1224.5 696.1,1321.5 696.6,1224.5 697.1,1321.5 697.6,1224.5 698.1,1321.5 698.6,1224.5 699.1,1321.5 699.6,1224.5 700.1,1321.5 700.6,1224.5 701.1,1321.5 701.6,1224.5 702.1,1321.5 702.6,1224.5 703.1,1321.5 703.6,1224.5 704.1,1321.5 704.6,1224.5 705.1,1367.7 705.6,1224.5 706.1,1367.7 706.6,1224.5 707.1,1367.7 707.6,1232.5 708.1,1367.7 708.6,1232.5 709.1,1367.7 709.6,1232.5 710.1,1367.7 710.6,1232.5 711.1,1367.7 711.6,1232.5 712.1,1367.7 712.6,1232.5 713.1,1321.5 713.6,1232.5 714.1,1321.5 714.6,1232.5 715.1,1321.5 715.6,1224.5 716.1,1321.5 716.6,1224.5 717.1,1321.5 717.6,1224.5 718.1,1321.5 718.6,1224.5 719.1,1321.5 719.6,1224.5 720.1,1367.7 720.6,1224.5 721.1,1321.5 721.6,1224.5 722.1,1321.5 722.6,1224.5 723.1,1321.5 723.6,1224.5 724.1,1321.5 724.6,1224.5 725.1,1321.5 725.6,1224.5 726.1,1321.5 726.6,1224.5 727.1,1321.5 727.6,1232.5 728.1,1321.5 728.6,1232.5 729.1,1321.5 729.6,1232.5 730.1,1321.5 730.6,1232.5 731.1,1321.5 731.6,1232.5 732.1,1321.5 732.6,1232.5 733.1,1321.5 733.6,1232.5 734.1,1321.5 734.6,1232.5 735.1,1321.5 735.6,1224.5 736.1,1321.5 736.6,1224.5 737.1,1321.5 737.6,1224.5 738.1,1321.5 738.6,1224.5 739.1,1321.5 739.6,1224.5 740.1,1321.5 740.6,1224.5 741.1,1321.5 741.6,1224.5 742.1,1321.5 742.6,1224.5 743.1,1321.5 743.6,1224.5 744.1,1321.5 744.6,1228.0 745.1,1367.7 745.6,1228.0 746.1,1367.7 746.6,1228.0 747.1,1321.5 747.6,1228.0 748.1,1321.5 748.6,1228.0 749.1,1321.5 749.6,1228.0 750.1,1321.5 750.6,1228.0 751.1,1321.5 751.6,1228.0 752.1,1321.5 752.6,1228.0 753.1,1321.5 753.6,1228.0 754.1,1321.5 754.6,1228.0 755.1,1321.5 755.6,1228.0 756.1,1321.5 756.6,1224.5 757.1,1321.5 757.6,1224.5 758.1,1321.5 758.6,1224.5 759.1,1321.5 759.6,1224.5 760.1,1321.5 760.6,1224.5 761.1,1321.5 761.6,1224.5 762.1,1367.7 762.6,1224.5 763.1,1367.7 763.6,1224.5 764.1,1367.7 764.6,1228.0 765.1,1367.7 765.6,1228.0 766.1,1367.7 766.6,1228.0 767.1,1367.7 767.6,1228.0 768.1,1367.7 768.6,1228.0 769.1,1367.7 769.6,1228.0 770.1,1367.7 770.6,1228.0 771.1,1367.7 771.6,1228.0 772.1,1367.7 772.6,1228.0 773.1,1367.7 773.6,1228.0 774.1,1367.7 774.6,1228.0 775.1,1367.7 775.6,1228.0 776.1,1367.7 776.6,1224.5 777.1,1321.5 777.6,1224.5 778.1,1321.5 778.6,1224.5 779.1,1321.5 779.6,1224.5 780.1,1321.5 780.6,1224.5 781.1,1321.5 781.6,1224.5 782.1,1321.5 782.6,1224.5 783.1,1321.5 783.6,1224.5 784.1,1321.5 784.6,1224.5 785.1,1321.5 785.6,1224.5 786.1,1321.5 786.6,1224.5 787.1,1321.5 787.6,1224.5 788.1,1321.5 788.6,1224.5 789.1,1367.7 789.6,1224.5 790.1,1321.5 790.6,1224.5 791.1,1321.5 791.6,1224.5 792.1,1321.5 792.6,1232.5 793.1,1321.5 793.6,1232.5 794.1,1321.5 794.6,1232.5 795.1,1321.5 795.6,1232.5 796.1,1321.5 796.6,1232.5 797.1,1321.5 797.6,1232.5 798.1,1321.5 798.6,1232.5 799.1,1367.7 799.6,1232.5 800.1,1367.7 800.6,1232.5 801.1,1321.5 801.6,1224.5 802.1,1321.5 802.6,1224.5 803.1,1321.5 803.6,1224.5 804.1,1321.5 804.6,1224.5 805.1,1321.5 805.6,1232.5 806.1,1321.5 806.6,1232.5 807.1,1321.5 807.6,1232.5 808.1,1321.5 808.6,1232.5 809.1,1321.5 809.6,1232.5 810.1,1321.5 810.6,1232.5 811.1,1321.5 811.6,1232.5 812.1,1321.5 812.6,1232.5 813.1,1321.5 813.6,1232.5 814.1,1321.5 814.6,1224.5 815.1,1321.5 815.6,1224.5 816.1,1321.5 816.6,1224.5 817.1,1321.5 817.6,1224.5 818.1,1321.5 818.6,1224.5 819.1,1321.5 819.6,1232.5 820.1,1321.5 820.6,1232.5 821.1,1321.5 821.6,1232.5 822.1,1321.5 822.6,1232.5 823.1,1321.5 823.6,1232.5 824.1,1321.5 824.6,1232.5 825.1,1321.5 825.6,1232.5 826.1,1321.5 826.6,1224.5 827.1,1321.5 827.6,1224.5 828.1,1321.5 828.6,1224.5 829.1,1321.5 829.6,1224.5 830.1,1321.5 830.6,1224.5 831.1,1321.5 831.6,1224.5 832.1,1321.5 832.6,1224.5 833.1,1321.5 833.6,1224.5 834.1,1321.5 834.6,1224.5 835.1,1321.5 835.6,1224.5 836.1,1321.5 836.6,1224.5 837.1,1321.5 837.6,1224.5 838.1,1321.5 838.6,1228.0 839.1,1321.5 839.6,1228.0 840.1,1321.5 840.6,1228.0 841.1,1321.5 841.6,1228.0 842.1,1321.5 842.6,1228.0 843.1,1321.5 843.6,1228.0 844.1,1367.7 844.6,1228.0 845.1,1367.7 845.6,1228.0 846.1,1367.7 846.6,1228.0 847.1,1367.7 847.6,1228.0 848.1,1367.7 848.6,1228.0 849.1,1367.7 849.6,1224.5 850.1,1367.7 850.6,1224.5 851.1,1367.7 851.6,1224.5 852.1,1321.5 852.6,1224.5 853.1,1321.5 853.6,1224.5 854.1,1321.5 854.6,1224.5 855.1,1321.5 855.6,1224.5 856.1,1321.5 856.6,1228.0 857.1,1321.5 857.6,1228.0 858.1,1321.5 858.6,1228.0 859.1,1321.5 859.6,1228.0 860.1,1321.5 860.6,1228.0 861.1,1321.5 861.6,1228.0 862.1,1321.5 862.6,1228.0 863.1,1321.5 863.6,1228.0 864.1,1321.5 864.6,1228.0 865.1,1321.5 865.6,1228.0 866.1,1321.5 866.6,1228.0 867.1,1321.5 867.6,1228.0 868.1,1321.5 868.6,1224.5 869.1,1321.5 869.6,1224.5 870.1,1321.5 870.6,1224.5 871.1,1321.5 871.6,1224.5 872.1,1321.5 872.6,1224.5 873.1,1321.5 873.6,1224.5 874.1,1367.7 874.6,1228.0 875.1,1321.5 875.6,1228.0 876.1,1321.5 876.6,1228.0 877.1,1321.5 877.6,1228.0 878.1,1321.5 878.6,1228.0 879.1,1321.5 879.6,1228.0 880.1,1321.5 880.6,1228.0 881.1,1321.5 881.6,1228.0 882.1,1321.5 882.6,1228.0 883.1,1321.5 883.6,1228.0 884.1,1321.5 884.6,1228.0 885.1,1321.5 885.6,1228.0 886.1,1321.5 886.6,1228.0 887.1,1321.5 887.6,1228.0 888.1,1321.5 888.6,1224.5 889.1,1321.5 889.9,714.0 890.4,773.0 890.9,714.0 891.4,773.0 891.9,714.0 892.4,773.0 892.9,714.0 893.4,752.0 893.9,693.0 894.4,752.0 894.9,698.0 895.4,752.0 895.9,698.0 896.4,752.0 896.9,698.0 897.4,752.0 897.9,698.0 898.4,752.0 898.9,698.0 899.4,752.0 899.9,703.5 900.4,752.0 900.9,703.5 901.4,762.0 901.9,703.5 902.4,762.0 902.9,703.5 903.4,762.0 903.9,708.0 904.4,762.0 904.9,708.0 905.4,762.0 905.9,708.0 906.4,762.0 906.9,708.0 907.4,762.0 907.9,708.0 908.4,762.0 908.9,708.0 909.4,762.0 909.9,708.0 910.4,769.5 910.9,708.0 911.4,758.0 911.9,698.0 912.4,758.0 912.9,705.0 913.4,758.0 913.9,705.0 914.4,758.0 914.9,708.0 915.4,758.0 915.9,708.0 916.4,758.0 916.9,708.0 917.4,758.0 917.9,708.0 918.4,769.5 918.9,708.0 919.4,769.5 919.9,708.0 920.4,769.5 920.9,708.0 921.4,769.5 921.9,708.0 922.4,769.5 922.9,708.0 923.4,769.5 923.9,708.0 924.4,769.5 924.9,708.0 925.4,769.5 925.9,708.0 926.4,769.5 926.9,703.5 927.4,773.0 927.9,703.5 928.4,752.0 928.9,703.5 929.4,752.0 929.9,703.5 930.4,752.0 930.9,703.5 931.4,752.0 931.9,703.5 932.4,752.0 932.9,703.5 933.4,752.0 933.9,703.5 934.4,752.0 934.9,693.0 935.4,752.0 935.9,693.0 936.4,752.0 936.9,693.0 937.4,762.0 937.9,693.0 938.4,762.0 938.9,693.0 939.4,762.0 939.9,693.0 940.4,762.0 940.9,693.0 941.4,762.0 941.9,698.0 942.4,762.0 942.9,698.0 943.4,752.0 943.9,698.0 944.4,752.0 944.9,698.0 945.4,752.0 945.9,698.0 946.4,752.0 946.9,698.0 947.4,752.0 947.9,698.0 948.4,752.0 948.9,698.0 949.4,752.0 949.9,698.0 950.4,757.0 950.9,698.0 951.4,757.0 951.9,712.0 952.4,757.0 952.9,712.0 953.4,757.0 953.9,712.0 954.4,769.5 954.9,712.0 955.4,769.5 955.9,712.0 956.4,769.5 956.9,712.0 957.4,773.0 957.9,712.0 958.4,752.0 958.9,711.5 959.4,752.0 959.9,711.5 960.4,752.0 960.9,711.5 961.4,752.0 961.9,711.5 962.4,752.0 962.9,698.0 963.4,752.0 963.9,698.0 964.4,752.0 964.9,698.0 965.4,752.0 965.9,698.0 966.4,769.5 966.9,698.0 967.4,769.5 967.9,698.0 968.4,769.5 968.9,698.0 969.4,769.5 969.9,693.0 970.4,769.5 970.9,693.0 971.4,769.5 971.9,693.0 972.4,769.5 972.9,693.0 973.4,769.5 973.9,693.0 974.4,769.5 974.9,693.0 975.4,769.5 975.9,698.0 976.4,769.5 976.9,698.0 977.4,773.0 977.9,703.5 978.4,773.0 978.9,703.5 979.4,773.0 979.9,703.5 980.4,773.0 980.9,703.5 981.4,773.0 981.9,703.5 982.4,773.0 982.9,703.5 983.4,752.0 983.9,703.5 984.4,752.0 984.9,703.5 985.4,752.0 985.9,703.5 986.4,752.0 986.9,693.0 987.4,752.0 987.9,698.0 988.4,752.0 988.9,698.0 989.4,752.0 989.9,698.0 990.4,752.0 990.9,698.0 991.4,752.0 991.9,705.0 992.4,773.0 992.9,710.0 993.4,773.0 993.9,710.0 994.4,769.5 994.9,710.0 995.4,769.5 995.9,710.0 996.4,769.5 996.9,710.0 997.4,769.5 997.9,710.0 998.4,769.5 998.9,710.0 999.4,769.5 999.9,710.0 1000.4,769.5 1000.9,710.0 1001.4,769.5 1001.9,710.0 1002.4,769.5 1002.9,710.0 1003.4,769.5 1003.9,712.0 1004.4,769.5 1004.9,712.0 1005.4,769.5 1005.9,712.0 1006.4,773.0 1006.9,712.0 1007.4,773.0 1007.9,712.0 1008.4,769.5 1008.9,712.0 1009.4,769.5 1009.9,712.0 1010.4,769.5 1010.9,712.0 1011.4,769.5 1011.9,712.0 1012.4,769.5 1012.9,712.0 1013.4,769.5 1013.9,712.0 1014.4,769.5 1014.9,712.0 1015.4,756.0 1015.9,698.0 1016.4,756.0 1016.9,703.5 1017.4,756.0 1017.9,703.5 1018.4,756.0 1018.9,703.5 1019.4,756.0 1019.9,707.5 1020.4,756.0 1020.9,707.5 1021.4,756.0 1021.9,707.5 1022.4,756.0 1022.9,707.5 1023.4,756.0 1023.9,707.5 1024.4,762.0 1024.9,707.5 1025.4,762.0 1025.9,707.5 1026.4,762.0 1026.9,707.5 1027.4,762.0 1027.9,707.5 1028.4,762.0 1028.9,707.5 1029.4,773.0 1029.9,712.0 1030.4,773.0 1030.9,712.0 1031.4,773.0 1031.9,712.0 1032.4,773.0 1032.9,712.0 1033.4,773.0 1033.9,712.0 1034.4,773.0 1034.9,712.0 1035.4,773.0 1035.9,712.0 1036.4,773.0 1036.9,712.0 1037.4,752.0 1037.9,698.0 1038.4,752.0 1038.9,710.0 1039.4,752.0 1039.9,710.0 1040.4,752.0 1040.9,710.0 1041.4,752.0 1041.9,710.0 1042.4,752.0 1042.9,710.0 1043.4,752.0 1043.9,710.0 1044.4,752.0 1044.9,710.0 1045.4,773.0 1045.9,710.0 1046.4,769.5 1046.9,710.0 1047.4,769.5 1047.9,710.0 1048.4,769.5 1048.9,710.0 1049.4,769.5 1049.9,710.0 1050.4,769.5 1050.9,710.0 1051.4,769.5 1051.9,710.0 1052.4,769.5 1052.9,710.0 1053.4,762.0 1053.9,710.0 1054.4,762.0 1054.9,710.0 1055.4,762.0 1055.9,710.0 1056.4,762.0 1056.9,710.0 1057.4,762.0 1057.9,710.0 1058.4,762.0 1058.9,710.0 1059.4,762.0 1059.9,703.5 1060.4,762.0 1060.9,712.0 1061.4,762.0 1061.9,712.0 1062.4,762.0 1062.9,712.0 1063.4,762.0 1063.9,720.0 1064.4,762.0 1064.9,720.0 1065.4,762.0 1065.9,720.0 1066.4,762.0 1066.9,720.0 1067.4,762.0 1067.9,720.0 1068.4,762.0 1068.9,720.0 1069.4,762.0 1069.9,720.0 1070.4,769.5 1070.9,720.0 1071.4,769.5 1071.9,703.5 1072.4,769.5 1072.9,712.0 1073.4,773.0 1073.9,712.0 1074.4,769.5 1074.9,712.0 1075.4,769.5 1075.9,712.0 1076.4,762.0 1076.9,712.0 1077.4,762.0 1077.9,712.0 1078.4,762.0 1078.9,712.0 1079.4,762.0 1079.9,712.0 1080.4,762.0 1080.9,712.0 1081.4,762.0 1081.9,712.0 1082.4,762.0 1082.9,703.5 1083.4,773.0 1083.9,703.5 1084.4,769.5 1084.9,712.5 1085.4,769.5 1085.9,712.5 1086.4,769.5 1086.9,712.5 1087.4,769.5 1087.9,712.5 1088.4,762.0 1088.9,712.5 1089.4,762.0 1089.9,712.5 1090.4,762.0 1090.9,712.5 1091.4,762.0 1091.9,712.5 1092.4,762.0 1092.9,709.0 1093.4,762.0 1093.9,709.0 1094.4,762.0 1094.9,708.0 1095.4,773.0 1095.9,708.0 1096.4,773.0 1096.9,693.0 1097.4,773.0 1097.9,693.0 1098.4,773.0 1098.9,698.0 1099.4,773.0 1099.9,698.0 1100.4,773.0 1100.9,698.0 1101.4,773.0 1101.9,698.0 1102.4,773.0 1102.9,698.0 1103.4,769.5 1103.9,698.0 1104.4,769.5 1104.9,698.0 1105.4,769.5 1105.9,708.0 1106.4,769.5 1106.9,708.0 1107.4,769.5 1107.9,708.0 1108.4,769.5 1108.9,708.0 1109.4,769.5 1109.9,708.0 1110.4,769.5 1110.9,708.0 1111.4,773.0 1111.9,708.0 1112.4,773.0 1112.9,708.0 1113.4,762.0 1113.9,708.0 1114.4,762.0 1114.9,693.0 1115.4,762.0 1115.9,693.0 1116.4,762.0 1116.9,698.0 1117.4,762.0 1117.9,698.0 1118.4,762.0 1118.9,720.0 1119.4,762.0 1119.9,720.0 1120.4,762.0 1120.9,720.0 1121.4,762.0 1121.9,720.0 1122.4,762.0 1122.9,720.0 1123.4,762.0 1123.9,720.0 1124.4,762.0 1124.9,720.0 1125.4,773.0 1125.9,720.0 1126.4,773.0 1126.9,698.0 1127.4,762.0 1127.9,698.0 1128.4,762.0 1128.9,707.5 1129.4,755.5 1129.9,707.5 1130.4,755.5 1130.9,707.5 1131.4,755.5 1131.9,707.5 1132.4,751.5 1132.9,707.5 1133.4,751.5 1133.9,707.5 1134.4,751.5 1134.9,707.5 1135.4,751.5 1135.9,698.0 1136.4,751.5 1136.9,709.0 1137.4,751.5 1137.9,709.0 1138.4,751.5 1138.9,709.0 1139.4,745.0 1139.9,709.0 1140.4,742.0 1140.9,709.0 1141.4,742.0 1141.9,709.0 1142.4,735.0 1142.9,709.0 1143.4,735.0 1143.9,698.0 1144.4,735.0 1144.9,698.0 1145.4,735.0 1145.9,693.0 1146.4,735.0 1146.9,693.0 1147.4,735.0 1147.9,693.0 1148.4,735.0 1148.9,693.0 1149.4,735.0 1149.9,703.5 1150.4,742.0 1150.9,703.5 1151.4,769.5 1151.9,703.5 1152.4,769.5 1152.9,703.5 1153.4,769.5 1153.9,703.5 1154.4,773.0 1154.9,703.5 1155.4,762.0 1155.9,703.5 1156.4,762.0 1156.9,703.5 1157.4,762.0 1157.9,707.8 1158.4,762.0 1158.9,707.8 1159.4,762.0 1159.9,707.8 1160.4,762.0 1160.9,707.8 1161.4,762.0 1161.9,707.8 1162.4,762.0 1162.9,707.8 1163.4,762.0 1163.9,707.8 1164.4,773.0 1164.9,707.8 1165.4,773.0 1165.9,707.8 1166.4,757.0 1166.9,707.8 1167.4,757.0 1167.9,698.0 1168.4,757.0 1168.9,698.0 1169.4,757.0 1169.9,698.0 1170.4,757.0 1170.9,698.0 1171.4,757.0 1171.9,698.0 1172.4,757.0 1172.9,698.0 1173.4,773.0 1173.9,693.0 1174.4,757.0 1174.9,693.0 1175.4,757.0 1175.9,703.5 1176.4,755.5 1176.9,703.5 1177.4,755.5 1177.9,703.5 1178.4,755.5 1178.9,703.5 1179.4,755.5 1179.9,703.5 1180.4,755.5 1180.9,703.5 1181.4,755.5 1181.9,703.5 1182.4,755.5 1182.9,703.5 1183.4,755.5 1183.9,703.5 1184.4,755.5 1184.9,703.5 1185.4,773.0 1185.9,703.5 1186.4,773.0 1186.9,703.5 1187.4,773.0 1187.9,703.5 1188.4,773.0 1188.9,703.5 1189.4,773.0 1189.9,693.0 1190.4,773.0 1190.9,693.0 1191.4,769.5 1191.9,693.0 1192.4,769.5 1192.9,693.0 1193.4,769.5 1194.1,313.0 1194.6,355.0 1195.1,313.0 1195.6,318.5 1196.1,280.0 1196.6,318.5 1197.1,280.0 1197.6,318.5 1198.1,280.0 1198.6,318.5 1199.1,280.0 1199.6,318.5 1200.1,259.8 1200.6,318.5 1201.1,259.8 1201.6,318.5 1202.1,259.8 1202.6,318.5 1203.1,259.8 1203.6,318.5 1204.1,259.8 1204.6,318.5 1205.1,259.8 1205.6,318.5 1206.1,259.8 1206.6,318.5 1207.1,259.8 1207.6,321.8 1208.1,259.8 1208.6,321.8 1209.1,262.0 1209.6,321.8 1210.1,262.0 1210.6,321.8 1211.1,262.0 1211.6,321.8 1212.1,262.0 1212.6,339.5 1213.1,262.0 1213.6,339.5 1214.1,262.0 1214.6,318.0 1215.1,262.0 1215.6,318.0 1216.1,262.0 1216.6,318.0 1217.1,262.0 1217.6,318.0 1218.1,262.0 1218.6,318.0 1219.1,262.0 1219.6,318.0 1220.1,234.7 1220.6,318.0 1221.1,259.8 1221.6,318.0 1222.1,259.8 1222.6,318.0 1223.1,259.8 1223.6,318.0 1224.1,276.5 1224.6,318.0 1225.1,276.5 1225.6,324.5 1226.1,276.5 1226.6,318.5 1227.1,276.5 1227.6,318.5 1228.1,276.5 1228.6,318.5 1229.1,276.5 1229.6,318.5 1230.1,276.5 1230.6,318.5 1231.1,276.5 1231.6,318.5 1232.1,276.5 1232.6,318.5 1233.1,276.5 1233.6,318.5 1234.1,276.5 1234.6,318.5 1235.1,233.2 1235.6,318.5 1236.1,233.2 1236.6,318.5 1237.1,279.5 1237.6,321.8 1238.1,279.5 1238.6,321.8 1239.1,279.5 1240.0,1228.0 1240.5,1367.7 1241.0,1228.0 1241.5,1367.7 1242.0,1228.0 1242.5,1367.7 1243.0,1228.0 1243.5,1367.7 1244.0,1228.0 1244.5,1367.7 1245.0,1228.0 1245.5,1367.7 1246.0,1228.0 1246.5,1367.7 1247.0,1228.0 1247.5,1367.7 1248.0,1228.0 1248.5,1321.5 1249.0,1228.0 1249.5,1321.5 1250.0,1224.5 1250.5,1321.5 1251.0,1228.0 1251.5,1321.5 1252.0,1228.0 1252.5,1321.5 1253.0,1228.0 1253.5,1321.5 1254.0,1228.0 1254.5,1321.5 1255.0,1228.0 1255.5,1321.5 1256.0,1228.0 1256.5,1321.5 1257.0,1228.0 1257.5,1321.5 1258.0,1228.0 1258.5,1321.5 1259.0,1228.0 1259.5,1321.5 1260.0,1228.0 1260.5,1321.5 1261.0,1228.0 1261.5,1367.7 1262.0,1228.0 1262.5,1367.7 1263.0,1228.0 1263.5,1321.5 1264.0,1224.5 1264.5,1321.5 1265.0,1224.5 1265.5,1321.5 1266.0,1224.5 1266.5,1321.5 1267.0,1224.5 1267.5,1321.5 1268.0,1224.5 1268.5,1321.5 1269.0,1224.5 1269.5,1321.5 1270.0,1224.5 1270.5,1321.5 1271.0,1224.5 1271.5,1321.5 1272.0,1224.5 1272.5,1321.5 1273.0,1224.5 1273.5,1321.5 1274.0,1228.0 1274.5,1367.7 1275.0,1228.0 1275.5,1321.5 1276.0,1228.0 1276.5,1321.5 1277.0,1228.0 1277.5,1321.5 1278.0,1228.0 1278.5,1321.5 1279.0,1228.0 1279.5,1321.5 1280.0,1228.0 1280.5,1321.5 1281.0,1228.0 1281.5,1321.5 1282.0,1228.0 1282.5,1321.5 1283.0,1228.0 1283.5,1321.5 1284.0,1228.0 1284.5,1321.5 1285.0,1228.0 1285.5,1321.5 1286.0,1228.0 1286.5,1321.5 1287.0,1224.5 1287.5,1321.5 1288.0,1224.5 1288.5,1321.5 1289.0,1224.5 1289.5,1367.7 1290.0,1228.0 1290.5,1367.7 1291.0,1228.0 1291.5,1321.5 1292.0,1228.0 1292.5,1321.5 1293.0,1228.0 1293.5,1321.5 1294.0,1228.0 1294.5,1321.5 1295.0,1228.0 1295.5,1321.5 1296.0,1228.0 1296.5,1321.5 1297.0,1228.0 1297.5,1321.5 1298.0,1228.0 1298.5,1321.5 1299.0,1228.0 1299.5,1321.5 1300.0,1224.5 1300.5,1321.5 1301.0,1224.5 1301.5,1321.5 1302.0,1224.5 1302.5,1321.5 1303.0,1224.5 1303.5,1321.5 1304.0,1224.5 1304.5,1321.5 1305.0,1232.5 1305.5,1321.5 1306.0,1232.5 1306.5,1321.5 1307.0,1232.5 1307.5,1321.5 1308.0,1232.5 1308.5,1321.5 1309.0,1232.5 1309.5,1321.5 1310.0,1232.5 1310.5,1321.5 1311.0,1232.5 1311.5,1321.5 1312.0,1232.5 1312.5,1321.5 1313.0,1232.5 1313.5,1321.5 1314.0,1232.5 1314.5,1321.5 1315.0,1224.5 1315.5,1321.5 1316.0,1224.5 1316.5,1321.5 1317.0,1224.5 1317.5,1321.5 1318.0,1224.5 1318.5,1321.5 1319.0,1224.5 1319.5,1321.5 1320.0,1224.5 1320.5,1321.5 1321.0,1224.5 1321.5,1321.5 1322.0,1224.5 1322.5,1321.5 1323.0,1224.5 1323.5,1321.5 1324.0,1224.5 1324.5,1321.5 1325.0,1224.5 1325.5,1321.5 1326.0,1224.5 1326.5,1321.5 1327.0,1224.5 1327.5,1321.5 1328.0,1228.0 1328.5,1321.5 1329.0,1228.0 1329.5,1321.5 1330.0,1228.0 1330.5,1321.5 1331.0,1228.0 1331.5,1321.5 1332.0,1228.0 1332.5,1367.7 1333.0,1228.0 1333.5,1321.5 1334.0,1228.0 1334.5,1321.5 1335.0,1228.0 1335.5,1321.5 1336.0,1228.0 1336.5,1321.5 1337.0,1228.0 1337.5,1321.5 1338.0,1228.0 1338.5,1321.5 1339.0,1228.0 1339.5,1321.5 1340.0,1224.5 1340.5,1321.5 1341.0,1224.5 1341.5,1367.7 1342.0,1224.5 1342.5,1367.7 1343.0,1228.0 1343.5,1321.5 1344.0,1228.0 1344.5,1321.5 1345.0,1228.0 1345.5,1321.5 1346.0,1228.0 1346.5,1321.5 1347.0,1228.0 1347.5,1321.5 1348.0,1228.0 1348.5,1321.5 1349.0,1228.0 1349.5,1321.5 1350.0,1228.0 1350.5,1321.5 1351.0,1228.0 1351.5,1321.5 1352.0,1228.0 1352.5,1321.5 1353.0,1228.0 1353.5,1321.5 1354.0,1224.5 1354.5,1321.5 1355.0,1224.5 1355.5,1321.5 1356.0,1224.5 1356.5,1367.7 1357.0,1224.5 1357.5,1367.7 1358.0,1224.5 1358.5,1367.7 1359.0,1224.5 1359.5,1367.7 1360.0,1224.5 1360.5,1321.5 1361.0,1224.5 1361.5,1321.5 1362.0,1224.5 1362.5,1321.5 1363.0,1224.5 1363.5,1321.5 1364.0,1224.5 1364.5,1321.5 1365.0,1224.5 1365.5,1321.5 1366.0,1224.5 1366.5,1321.5 1367.0,1232.5 1367.5,1321.5 1368.0,1232.5 1368.5,1321.5 1369.0,1232.5 1369.5,1321.5 1370.0,1232.5 1370.5,1367.7 1371.0,1232.5 1371.5,1321.5 1372.0,1232.5 1372.5,1321.5 1373.0,1232.5 1373.5,1321.5 1374.0,1232.5 1374.5,1321.5 1375.0,1232.5 1375.5,1321.5 1376.0,1224.5 1376.5,1321.5 1377.0,1224.5 1377.5,1321.5 1378.0,1224.5 1378.5,1321.5 1379.0,1224.5 1379.5,1321.5 1380.0,1224.5 1380.5,1321.5 1381.0,1224.5 1381.5,1321.5 1382.0,1224.5 1382.5,1367.7 1383.0,1224.5 1383.5,1367.7 1384.0,1224.5 1384.5,1321.5 1385.0,1224.5 1385.5,1321.5 1386.0,1224.5 1386.5,1321.5 1387.0,1224.5 1387.5,1321.5 1388.0,1224.5 1388.5,1321.5 1389.0,1224.5 1389.5,1321.5 1390.0,1224.5 1390.5,1321.5 1391.0,1228.0 1391.5,1321.5 1392.0,1228.0 1392.5,1321.5 1393.0,1228.0 1393.5,1321.5 1394.0,1228.0 1394.5,1321.5 1395.0,1228.0 1395.5,1367.7 1396.0,1228.0 1396.5,1321.5 1397.0,1228.0 1397.5,1321.5 1398.0,1228.0 1398.5,1321.5 1399.0,1228.0 1399.5,1321.5 1400.0,1224.5 1400.5,1321.5 1401.0,1224.5 1401.5,1321.5 1402.0,1224.5 1402.5,1321.5 1403.0,1224.5 1403.5,1321.5 1404.0,1224.5 1404.5,1321.5 1405.0,1224.5 1405.5,1321.5 1406.0,1228.0 1406.5,1321.5 1407.0,1228.0 1407.5,1321.5 1408.0,1228.0 1408.5,1321.5 1409.0,1228.0 1409.5,1321.5 1410.0,1228.0 1410.5,1321.5 1411.0,1228.0 1411.5,1321.5 1412.0,1228.0 1412.5,1321.5 1413.0,1228.0 1413.5,1321.5 1414.0,1228.0 1414.5,1321.5 1415.0,1228.0 1415.5,1321.5 1416.0,1224.5 1416.5,1321.5 1417.0,1224.5 1417.5,1321.5 1418.0,1224.5 1418.5,1321.5 1419.0,1224.5 1419.5,1321.5 1420.0,1224.5 1420.5,1321.5 1421.0,1228.0 1421.5,1367.7 1422.0,1228.0 1422.5,1321.5 1423.0,1228.0 1423.5,1321.5 1424.0,1228.0 1424.5,1321.5 1425.0,1228.0 1425.5,1321.5 1426.0,1228.0 1426.5,1321.5 1427.0,1228.0 1427.5,1321.5 1428.0,1228.0 1428.5,1321.5 1429.0,1228.0 1429.5,1321.5 1430.0,1228.0 1430.5,1321.5 1431.0,1228.0 1431.5,1321.5 1432.0,1224.5 1432.5,1321.5 1433.0,1224.5 1433.5,1321.5 1434.0,1224.5 1434.5,1321.5 1435.0,1232.5 1435.5,1321.5 1436.0,1232.5 1436.5,1321.5 1437.0,1232.5 1437.5,1321.5 1438.0,1232.5 1438.5,1321.5 1439.0,1232.5 1439.5,1321.5 1440.0,1232.5 1440.5,1321.5 1441.0,1232.5 1441.5,1321.5 1442.0,1232.5 1442.5,1321.5 1443.0,1232.5 1443.5,1321.5 1444.0,1232.5 1444.5,1321.5 1445.0,1224.5 1445.5,1321.5 1446.0,1224.5 1446.5,1321.5 1447.0,1224.5 1447.5,1321.5 1448.0,1224.5 1448.5,1321.5 1449.0,1224.5 1449.5,1321.5 1450.0,1224.5 1450.5,1321.5 1451.0,1228.0 1451.5,1321.5 1452.0,1228.0 1452.5,1321.5 1453.0,1228.0 1453.5,1321.5 1454.0,1228.0 1454.5,1321.5 1455.0,1228.0 1455.5,1321.5 1456.0,1228.0 1456.5,1321.5 1457.0,1228.0 1457.5,1321.5 1458.0,1228.0 1458.5,1321.5 1459.0,1224.5 1459.5,1321.5 1460.0,1224.5 1460.5,1321.5 1461.0,1224.5 1461.5,1321.5 1462.0,1224.5 1462.5,1321.5 1463.0,1224.5 1463.5,1321.5 1464.0,1224.5 1464.5,1367.7 1465.0,1224.5 1465.5,1367.7 1466.0,1224.5 1466.5,1321.5 1467.0,1224.5 1467.5,1321.5 1468.0,1224.5 1468.5,1321.5 1469.0,1224.5 1469.5,1321.5 1470.0,1224.5 1470.5,1321.5 1471.0,1224.5 1471.5,1321.5 1472.0,1224.5 1472.5,1321.5 1473.0,1228.0 1473.5,1321.5 1474.0,1228.0 1474.5,1321.5 1475.0,1228.0 1475.5,1367.7 1476.0,1228.0 1476.5,1367.7 1477.0,1228.0 1477.5,1321.5 1478.0,1228.0 1478.5,1321.5 1479.0,1228.0 1479.5,1321.5 1480.0,1228.0 1480.5,1321.5 1481.0,1228.0 1481.5,1321.5 1482.0,1228.0 1482.5,1321.5 1483.0,1228.0 1483.5,1321.5 1484.0,1228.0 1484.5,1321.5 1485.0,1224.5 1485.5,1321.5 1486.0,1224.5 1486.5,1367.7 1487.0,1224.5 1487.5,1367.7 1488.0,1224.5 1488.5,1367.7 1489.0,1224.5 1489.5,1367.7 1490.0,1224.5 1490.5,1367.7 1491.0,1224.5 1491.5,1367.7 1492.0,1224.5 1492.5,1367.7 1493.0,1228.0 1493.5,1367.7 1494.0,1228.0 1494.5,1321.5 1495.0,1228.0 1495.5,1321.5 1496.0,1228.0 1496.5,1321.5 1497.0,1228.0 1497.5,1321.5 1498.3,711.0 1498.8,773.0 1499.3,711.0 1499.8,773.0 1500.3,711.0 1500.8,773.0 1501.3,711.0 1501.8,773.0 1502.3,708.0 1502.8,773.0 1503.3,708.0 1503.8,773.0 1504.3,708.0 1504.8,773.0 1505.3,708.0 1505.8,773.0 1506.3,708.0 1506.8,769.5 1507.3,708.0 1507.8,769.5 1508.3,708.0 1508.8,769.5 1509.3,708.0 1509.8,769.5 1510.3,708.0 1510.8,769.5 1511.3,703.5 1511.8,769.5 1512.3,703.5 1512.8,769.5 1513.3,703.5 1513.8,769.5 1514.3,703.5 1514.8,769.5 1515.3,698.0 1515.8,769.5 1516.3,698.0 1516.8,773.0 1517.3,713.0 1517.8,769.5 1518.3,713.0 1518.8,769.5 1519.3,713.0 1519.8,769.5 1520.3,713.0 1520.8,769.5 1521.3,713.0 1521.8,769.5 1522.3,713.0 1522.8,769.5 1523.3,713.0 1523.8,769.5 1524.3,713.0 1524.8,769.5 1525.3,698.0 1525.8,769.5 1526.3,698.0 1526.8,769.5 1527.3,698.0 1527.8,769.5 1528.3,698.0 1528.8,769.5 1529.3,698.0 1529.8,769.5 1530.3,698.0 1530.8,762.0 1531.3,698.0 1531.8,762.0 1532.3,693.0 1532.8,762.0 1533.3,708.0 1533.8,762.0 1534.3,708.0 1534.8,762.0 1535.3,708.0 1535.8,762.0 1536.3,714.0 1536.8,762.0 1537.3,714.0 1537.8,762.0 1538.3,714.0 1538.8,762.0 1539.3,714.0 1539.8,769.5 1540.3,714.0 1540.8,769.5 1541.3,714.0 1541.8,769.5 1542.3,714.0 1542.8,769.5 1543.3,714.0 1543.8,769.5 1544.3,714.0 1544.8,769.5 1545.3,712.5 1545.8,762.0 1546.3,712.5 1546.8,762.0 1547.3,712.5 1547.8,762.0 1548.3,711.0 1548.8,762.0 1549.3,698.0 1549.8,762.0 1550.3,707.8 1550.8,762.0 1551.3,707.8 1551.8,762.0 1552.3,707.8 1552.8,769.5 1553.3,707.8 1553.8,769.5 1554.3,707.8 1554.8,769.5 1555.3,707.8 1555.8,769.5 1556.3,707.8 1556.8,769.5 1557.3,707.8 1557.8,769.5 1558.3,707.8 1558.8,769.5 1559.3,707.8 1559.8,769.5 1560.3,707.8 1560.8,773.0 1561.3,693.0 1561.8,769.5 1562.3,693.0 1562.8,769.5 1563.3,693.0 1563.8,769.5 1564.3,693.0 1564.8,769.5 1565.3,693.0 1565.8,762.0 1566.3,698.0 1566.8,762.0 1567.3,698.0 1567.8,762.0 1568.3,698.0 1568.8,762.0 1569.3,698.0 1569.8,762.0 1570.3,698.0 1570.8,762.0 1571.3,698.0 1571.8,762.0 1572.3,698.0 1572.8,762.0 1573.3,693.0 1573.8,769.5 1574.3,703.5 1574.8,762.0 1575.3,703.5 1575.8,762.0 1576.3,703.5 1576.8,762.0 1577.3,703.5 1577.8,762.0 1578.3,703.5 1578.8,757.0 1579.3,703.5 1579.8,757.0 1580.3,703.5 1580.8,757.0 1581.3,703.5 1581.8,757.0 1582.3,703.5 1582.8,757.0 1583.3,698.0 1583.8,757.0 1584.3,698.0 1584.8,757.0 1585.3,698.0 1585.8,762.0 1586.3,693.0 1586.8,762.0 1587.3,693.0 1587.8,762.0 1588.3,698.0 1588.8,762.0 1589.3,710.0 1589.8,762.0 1590.3,710.0 1590.8,762.0 1591.3,710.0 1591.8,773.0 1592.3,710.0 1592.8,757.0 1593.3,710.0 1593.8,757.0 1594.3,710.0 1594.8,757.0 1595.3,710.0 1595.8,757.0 1596.3,710.0 1596.8,757.0 1597.3,710.0 1597.8,757.0 1598.3,710.0 1598.8,757.0 1599.3,710.0 1599.8,757.0 1600.3,710.0 1600.8,773.0 1601.3,710.0 1601.8,756.0 1602.3,703.0 1602.8,756.0 1603.3,703.0 1603.8,756.0 1604.3,703.0 1604.8,756.0 1605.3,703.0 1605.8,756.0 1606.3,703.0 1606.8,756.0 1607.3,703.0 1607.8,756.0 1608.3,712.0 1608.8,756.0 1609.3,712.0 1609.8,769.5 1610.3,712.0 1610.8,757.0 1611.3,712.0 1611.8,757.0 1612.3,712.0 1612.8,757.0 1613.3,712.0 1613.8,746.0 1614.3,712.0 1614.8,746.0 1615.3,712.0 1615.8,746.0 1616.3,703.5 1616.8,746.0 1617.3,703.5 1617.8,746.0 1618.3,703.5 1618.8,746.0 1619.3,693.0 1619.8,746.0 1620.3,693.0 1620.8,757.0 1621.3,693.0 1621.8,756.0 1622.3,693.0 1622.8,756.0 1623.3,693.0 1623.8,756.0 1624.3,693.0 1624.8,756.0 1625.3,693.0 1625.8,751.0 1626.3,693.0 1626.8,751.0 1627.3,693.0 1627.8,751.0 1628.3,693.0 1628.8,751.0 1629.3,693.0 1629.8,751.0 1630.3,693.0 1630.8,751.0 1631.3,693.0 1631.8,751.0 1632.3,693.0 1632.8,751.0 1633.3,693.0 1633.8,757.0 1634.3,693.0 1634.8,751.0 1635.3,707.0 1635.8,751.0 1636.3,707.0 1636.8,751.0 1637.3,707.0 1637.8,751.0 1638.3,707.0 1638.8,751.0 1639.3,707.0 1639.8,751.0 1640.3,707.0 1640.8,751.0 1641.3,707.0 1641.8,751.0 1642.3,707.0 1642.8,751.0 1643.3,707.0 1643.8,751.0 1644.3,693.0 1644.8,769.5 1645.3,693.0 1645.8,769.5 1646.3,693.0 1646.8,769.5 1647.3,693.0 1647.8,769.5 1648.3,693.0 1648.8,769.5 1649.3,693.0 1649.8,769.5 1650.3,693.0 1650.8,769.5 1651.3,693.0 1651.8,769.5 1652.3,693.0 1652.8,773.0 1653.3,700.0 1653.8,773.0 1654.3,700.0 1654.8,773.0 1655.3,700.0 1655.8,773.0 1656.3,700.0 1656.8,773.0 1657.3,700.0 1657.8,773.0 1658.3,700.0 1658.8,773.0 1659.3,700.0 1659.8,773.0 1660.3,700.0 1660.8,773.0 1661.3,700.0 1661.8,773.0 1662.3,693.0 1662.8,773.0 1663.3,710.0 1663.8,773.0 1664.3,710.0 1664.8,773.0 1665.3,710.0 1665.8,773.0 1666.3,710.0 1666.8,773.0 1667.3,710.0 1667.8,773.0 1668.3,710.0 1668.8,773.0 1669.3,710.0 1669.8,773.0 1670.3,710.0 1670.8,773.0 1671.3,710.0 1671.8,773.0 1672.3,710.0 1672.8,773.0 1673.3,707.5 1673.8,757.0 1674.3,693.0 1674.8,757.0 1675.3,693.0 1675.8,757.0 1676.3,693.0 1676.8,757.0 1677.3,693.0 1677.8,757.0 1678.3,693.0 1678.8,757.0 1679.3,703.5 1679.8,757.0 1680.3,703.5 1680.8,757.0 1681.3,703.5 1681.8,773.0 1682.3,703.5 1682.8,773.0 1683.3,703.5 1683.8,773.0 1684.3,703.5 1684.8,773.0 1685.3,703.5 1685.8,773.0 1686.3,693.0 1686.8,773.0 1687.3,693.0 1687.8,773.0 1688.3,698.0 1688.8,762.0 1689.3,708.0 1689.8,762.0 1690.3,708.0 1690.8,762.0 1691.3,708.0 1691.8,762.0 1692.3,708.0 1692.8,762.0 1693.3,708.0 1693.8,762.0 1694.3,708.0 1694.8,762.0 1695.3,708.0 1695.8,762.0 1696.3,708.0 1696.8,762.0 1697.3,708.0 1697.8,762.0 1698.3,708.0 1698.8,762.0 1699.3,714.0 1699.8,762.0 1700.3,714.0 1700.8,762.0 1701.3,714.0 1701.8,762.0 1702.3,714.0 1702.8,762.0 1703.3,714.0 1703.8,762.0 1704.3,714.0 1704.8,752.0 1705.3,714.0 1705.8,752.0 1706.3,714.0 1706.8,752.0 1707.3,714.0 1707.8,752.0 1708.3,714.0 1708.8,752.0 1709.3,714.0 1709.8,752.0 1710.3,714.0 1710.8,752.0 1711.3,713.0 1711.8,773.0 1712.3,713.0 1712.8,773.0 1713.3,713.0 1713.8,769.5 1714.3,713.0 1714.8,769.5 1715.3,710.0 1715.8,769.5 1716.3,710.0 1716.8,769.5 1717.3,698.0 1717.8,757.0 1718.3,698.0 1718.8,757.0 1719.3,698.0 1719.8,757.0 1720.3,698.0 1720.8,757.0 1721.3,698.0 1721.8,757.0 1722.3,698.0 1722.8,757.0 1723.3,698.0 1723.8,751.0 1724.3,693.0 1724.8,751.0 1725.3,698.0 1725.8,751.0 1726.3,698.0 1726.8,751.0 1727.3,698.0 1727.8,751.0 1728.3,698.0 1728.8,751.0 1729.3,698.0 1729.8,751.0 1730.3,698.0 1730.8,751.0 1731.3,698.0 1731.8,755.5 1732.3,698.0 1732.8,755.5 1733.3,698.0 1733.8,755.5 1734.3,721.5 1734.8,755.5 1735.3,721.5 1735.8,762.0 1736.3,721.5 1736.8,762.0 1737.3,721.5 1737.8,762.0 1738.3,721.5 1738.8,762.0 1739.3,721.5 1739.8,769.5 1740.3,721.5 1740.8,769.5 1741.3,721.5 1741.8,773.0 1742.3,693.0 1742.8,773.0 1743.3,693.0 1743.8,773.0 1744.3,698.0 1744.8,773.0 1745.3,698.0 1745.8,773.0 1746.3,698.0 1746.8,773.0 1747.3,698.0 1747.8,759.0 1748.3,698.0 1748.8,759.0 1749.3,698.0 1749.8,759.0 1750.3,703.5 1750.8,759.0 1751.3,703.5 1751.8,759.0 1752.3,713.0 1752.8,759.0 1753.3,713.0 1753.8,759.0 1754.3,713.0 1754.8,769.5 1755.3,713.0 1755.8,762.0 1756.3,713.0 1756.8,755.5 1757.3,713.0 1757.8,755.5 1758.3,713.0 1758.8,755.5 1759.3,713.0 1759.8,755.5 1760.3,703.5 1760.8,755.5 1761.3,703.5 1761.8,755.5 1762.3,698.0 1762.8,755.5 1763.3,707.8 1763.8,755.5 1764.3,707.8 1764.8,755.5 1765.3,707.8 1765.8,762.0 1766.3,707.8 1766.8,762.0 1767.3,707.8 1767.8,769.5 1768.3,707.8 1768.8,762.0 1769.3,707.8 1769.8,762.0 1770.3,707.8 1770.8,757.0 1771.3,707.8 1771.8,757.0 1772.3,707.8 1772.8,757.0 1773.3,707.8 1773.8,757.0 1774.3,703.5 1774.8,757.0 1775.3,703.5 1775.8,757.0 1776.3,703.5 1776.8,757.0 1777.3,703.5 1777.8,757.0 1778.3,698.0 1778.8,757.0 1779.3,720.0 1779.8,769.5 1780.3,720.0 1780.8,755.5 1781.3,720.0 1781.8,755.5 1782.3,720.0 1782.8,755.5 1783.3,720.0 1783.8,755.5 1784.3,720.0 1784.8,755.5 1785.3,720.0 1785.8,755.5 1786.3,693.0 1786.8,755.5 1787.3,693.0 1787.8,755.5 1788.3,703.5 1788.8,757.0 1789.3,703.5 1789.8,757.0 1790.3,703.5 1790.8,757.0 1791.3,703.5 1791.8,771.0 1792.3,703.5 1792.8,773.5 1793.3,703.5 1793.8,755.5 1794.3,703.5 1794.8,755.5 1795.3,703.5 1795.8,755.5 1796.3,703.5 1796.8,755.5 1797.3,703.5 1797.8,755.5 1798.3,703.5 1798.8,755.5 1799.3,703.5 1799.8,755.5 1800.3,698.0 1800.8,755.5 1801.3,698.0 1801.8,773.0 1802.5,315.0 1803.0,353.0 1803.5,315.0 1804.0,353.0 1804.5,280.0 1805.0,353.0 1805.5,233.2 1806.0,353.0 1806.5,233.2 1807.0,353.0 1807.5,259.8 1808.0,353.0 1808.5,259.8 1809.0,353.0 1809.5,259.8 1810.0,316.5 1810.5,259.8 1811.0,316.5 1811.5,259.8 1812.0,316.5 1812.5,259.8 1813.0,316.5 1813.5,259.8 1814.0,316.5 1814.5,233.2 1815.0,316.5 1815.5,233.2 1816.0,316.5 1816.5,233.2 1817.0,316.5 1817.5,233.2 1818.0,316.5 1818.5,233.2 1819.0,319.0 1819.5,233.2 1820.0,336.8 1820.5,233.2 1821.0,336.8 1821.5,233.2 1822.0,336.8 1822.5,233.2 1823.0,336.8 1823.5,276.8 1824.0,336.8 1824.5,276.8 1825.0,336.8 1825.5,276.8 1826.0,353.0 1826.5,276.8 1827.0,353.0 1827.5,276.8 1828.0,323.7 1828.5,276.8 1829.0,323.7 1829.5,276.8 1830.0,316.5 1830.5,276.8 1831.0,316.5 1831.5,276.8 1832.0,316.5 1832.5,276.8 1833.0,316.5 1833.5,275.0 1834.0,316.5 1834.5,276.2 1835.0,316.5 1835.5,276.2 1836.0,316.5 1836.5,276.2 1837.0,353.0 1837.5,276.2 1838.0,353.0 1838.5,276.2 1839.0,324.0 1839.5,276.2 1840.0,324.0 1840.5,276.2 1841.0,324.0 1841.5,276.2 1842.0,324.0 1842.5,276.2 1843.0,324.0 1843.5,276.2 1844.0,324.0 1844.5,234.7 1845.0,324.0 1845.5,276.8 1846.0,324.0 1846.5,310.0 1847.0,324.0 1847.5,310.0 1848.4,1228.0 1848.9,1321.5 1849.4,1228.0 1849.9,1321.5 1850.4,1228.0 1850.9,1321.5 1851.4,1228.0 1851.9,1321.5 1852.4,1228.0 1852.9,1321.5 1853.4,1228.0 1853.9,1321.5 1854.4,1228.0 1854.9,1321.5 1855.4,1228.0 1855.9,1321.5 1856.4,1224.5 1856.9,1321.5 1857.4,1224.5 1857.9,1321.5 1858.4,1224.5 1858.9,1321.5 1859.4,1224.5 1859.9,1321.5 1860.4,1224.5 1860.9,1321.5 1861.4,1224.5 1861.9,1367.7 1862.4,1224.5 1862.9,1367.7 1863.4,1224.5 1863.9,1367.7 1864.4,1224.5 1864.9,1367.7 1865.4,1224.5 1865.9,1367.7 1866.4,1224.5 1866.9,1367.7 1867.4,1224.5 1867.9,1367.7 1868.4,1224.5 1868.9,1367.7 1869.4,1228.0 1869.9,1367.7 1870.4,1228.0 1870.9,1367.7 1871.4,1228.0 1871.9,1367.7 1872.4,1228.0 1872.9,1367.7 1873.4,1228.0 1873.9,1367.7 1874.4,1228.0 1874.9,1367.7 1875.4,1228.0 1875.9,1367.7 1876.4,1228.0 1876.9,1367.7 1877.4,1228.0 1877.9,1367.7 1878.4,1228.0 1878.9,1367.7 1879.4,1228.0 1879.9,1321.5 1880.4,1228.0 1880.9,1321.5 1881.4,1228.0 1881.9,1321.5 1882.4,1228.0 1882.9,1321.5 1883.4,1228.0 1883.9,1321.5 1884.4,1228.0 1884.9,1321.5 1885.4,1228.0 1885.9,1321.5 1886.4,1228.0 1886.9,1321.5 1887.4,1224.5 1887.9,1321.5 1888.4,1224.5 1888.9,1321.5 1889.4,1224.5 1889.9,1321.5 1890.4,1224.5 1890.9,1321.5 1891.4,1224.5 1891.9,1321.5 1892.4,1224.5 1892.9,1321.5 1893.4,1224.5 1893.9,1321.5 1894.4,1224.5 1894.9,1367.7 1895.4,1224.5 1895.9,1367.7 1896.4,1228.0 1896.9,1367.7 1897.4,1228.0 1897.9,1367.7 1898.4,1228.0 1898.9,1367.7 1899.4,1228.0 1899.9,1367.7 1900.4,1228.0 1900.9,1367.7 1901.4,1228.0 1901.9,1367.7 1902.4,1228.0 1902.9,1367.7 1903.4,1228.0 1903.9,1367.7 1904.4,1228.0 1904.9,1367.7 1905.4,1228.0 1905.9,1367.7 1906.4,1228.0 1906.9,1367.7 1907.4,1228.0 1907.9,1367.7 1908.4,1224.5 1908.9,1367.7 1909.4,1224.5 1909.9,1367.7 1910.4,1224.5 1910.9,1367.7 1911.4,1224.5 1911.9,1367.7 1912.4,1224.5 1912.9,1367.7 1913.4,1224.5 1913.9,1367.7 1914.4,1224.5 1914.9,1367.7 1915.4,1224.5 1915.9,1367.7 1916.4,1224.5 1916.9,1367.7 1917.4,1224.5 1917.9,1367.7 1918.4,1224.5 1918.9,1367.7 1919.4,1224.5 1919.9,1321.5 1920.4,1224.5 1920.9,1321.5 1921.4,1224.5 1921.9,1321.5 1922.4,1224.5 1922.9,1321.5 1923.4,1232.5 1923.9,1321.5 1924.4,1232.5 1924.9,1321.5 1925.4,1232.5 1925.9,1321.5 1926.4,1232.5 1926.9,1367.7 1927.4,1232.5 1927.9,1367.7 1928.4,1232.5 1928.9,1367.7 1929.4,1232.5 1929.9,1367.7 1930.4,1232.5 1930.9,1367.7 1931.4,1224.5 1931.9,1367.7 1932.4,1224.5 1932.9,1367.7 1933.4,1224.5 1933.9,1367.7 1934.4,1224.5 1934.9,1367.7 1935.4,1224.5 1935.9,1367.7 1936.4,1224.5 1936.9,1367.7 1937.4,1228.0 1937.9,1367.7 1938.4,1228.0 1938.9,1367.7 1939.4,1228.0 1939.9,1367.7 1940.4,1228.0 1940.9,1367.7 1941.4,1228.0 1941.9,1367.7 1942.4,1228.0 1942.9,1367.7 1943.4,1228.0 1943.9,1367.7 1944.4,1228.0 1944.9,1321.5 1945.4,1228.0 1945.9,1321.5 1946.4,1224.5 1946.9,1321.5 1947.4,1224.5 1947.9,1321.5 1948.4,1224.5 1948.9,1321.5 1949.4,1224.5 1949.9,1321.5 1950.4,1224.5 1950.9,1321.5 1951.4,1224.5 1951.9,1321.5 1952.4,1232.5 1952.9,1367.7 1953.4,1232.5 1953.9,1367.7 1954.4,1232.5 1954.9,1367.7 1955.4,1232.5 1955.9,1367.7 1956.4,1232.5 1956.9,1367.7 1957.4,1232.5 1957.9,1367.7 1958.4,1232.5 1958.9,1367.7 1959.4,1224.5 1959.9,1367.7 1960.4,1224.5 1960.9,1367.7 1961.4,1224.5 1961.9,1367.7 1962.4,1228.0 1962.9,1367.7 1963.4,1228.0 1963.9,1367.7 1964.4,1228.0 1964.9,1367.7 1965.4,1228.0 1965.9,1367.7 1966.4,1228.0 1966.9,1367.7 1967.4,1228.0 1967.9,1367.7 1968.4,1228.0 1968.9,1367.7 1969.4,1228.0 1969.9,1367.7 1970.4,1228.0 1970.9,1367.7 1971.4,1228.0 1971.9,1367.7 1972.4,1228.0 1972.9,1321.5 1973.4,1228.0 1973.9,1321.5 1974.4,1224.5 1974.9,1321.5 1975.4,1224.5 1975.9,1321.5 1976.4,1224.5 1976.9,1321.5 1977.4,1224.5 1977.9,1321.5 1978.4,1224.5 1978.9,1321.5 1979.4,1224.5 1979.9,1321.5 1980.4,1224.5 1980.9,1321.5 1981.4,1228.0 1981.9,1321.5 1982.4,1228.0 1982.9,1321.5 1983.4,1228.0 1983.9,1321.5 1984.4,1228.0 1984.9,1321.5 1985.4,1228.0 1985.9,1321.5 1986.4,1228.0 1986.9,1321.5 1987.4,1228.0 1987.9,1321.5 1988.4,1228.0 1988.9,1367.7 1989.4,1228.0 1989.9,1367.7 1990.4,1228.0 1990.9,1321.5 1991.4,1228.0 1991.9,1321.5 1992.4,1228.0 1992.9,1321.5 1993.4,1224.5 1993.9,1321.5 1994.4,1224.5 1994.9,1321.5 1995.4,1224.5 1995.9,1321.5 1996.4,1224.5 1996.9,1321.5 1997.4,1224.5 1997.9,1321.5 1998.4,1232.5 1998.9,1321.5 1999.4,1232.5 1999.9,1321.5 2000.4,1232.5 2000.9,1321.5 2001.4,1232.5 2001.9,1321.5 2002.4,1232.5 2002.9,1321.5 2003.4,1232.5 2003.9,1321.5 2004.4,1232.5 2004.9,1321.5 2005.4,1232.5 2005.9,1321.5 2006.4,1232.5 2006.9,1321.5 2007.4,1236.5 2007.9,1321.5 2008.4,1236.5 2008.9,1321.5 2009.4,1236.5 2009.9,1321.5 2010.4,1236.5 2010.9,1321.5 2011.4,1236.5 2011.9,1321.5 2012.4,1236.5 2012.9,1321.5 2013.4,1236.5 2013.9,1321.5 2014.4,1236.5 2014.9,1367.7 2015.4,1236.5 2015.9,1367.7 2016.4,1228.0 2016.9,1321.5 2017.4,1228.0 2017.9,1321.5 2018.4,1228.0 2018.9,1321.5 2019.4,1228.0 2019.9,1321.5 2020.4,1228.0 2020.9,1321.5 2021.4,1228.0 2021.9,1321.5 2022.4,1228.0 2022.9,1321.5 2023.4,1228.0 2023.9,1321.5 2024.4,1228.0 2024.9,1367.7 2025.4,1228.0 2025.9,1321.5 2026.4,1228.0 2026.9,1321.5 2027.4,1228.0 2027.9,1321.5 2028.4,1224.5 2028.9,1321.5 2029.4,1224.5 2029.9,1321.5 2030.4,1224.5 2030.9,1321.5 2031.4,1224.5 2031.9,1321.5 2032.4,1224.5 2032.9,1367.7 2033.4,1224.5 2033.9,1367.7 2034.4,1224.5 2034.9,1367.7 2035.4,1224.5 2035.9,1367.7 2036.4,1224.5 2036.9,1367.7 2037.4,1224.5 2037.9,1321.5 2038.4,1224.5 2038.9,1321.5 2039.4,1224.5 2039.9,1321.5 2040.4,1224.5 2040.9,1321.5 2041.4,1224.5 2041.9,1321.5 2042.4,1228.0 2042.9,1321.5 2043.4,1228.0 2043.9,1321.5 2044.4,1228.0 2044.9,1321.5 2045.4,1228.0 2045.9,1321.5 2046.4,1228.0 2046.9,1321.5 2047.4,1228.0 2047.9,1321.5 2048.4,1228.0 2048.9,1321.5 2049.4,1228.0 2049.9,1321.5 2050.4,1228.0 2050.9,1321.5 2051.4,1228.0 2051.9,1321.5 2052.4,1228.0 2052.9,1321.5 2053.4,1224.5 2053.9,1367.7 2054.4,1224.5 2054.9,1321.5 2055.4,1224.5 2055.9,1321.5"/>
<g stroke="#000" stroke-width="9.6" stroke-dasharray="38 38.43"><line x1="230.6" y1="300.4" x2="2056.0" y2="300.4"/><line x1="229.8" y1="300.4" x2="232" y2="300.4" stroke-dasharray="none"/><line x1="230.6" y1="734.0" x2="2056.0" y2="734.0"/><line x1="229.8" y1="734.0" x2="232" y2="734.0" stroke-dasharray="none"/><line x1="230.6" y1="1283.0" x2="2056.0" y2="1283.0"/><line x1="229.8" y1="1283.0" x2="232" y2="1283.0" stroke-dasharray="none"/></g>
<g fill="#262626" font-size="57.5"><text transform="translate(282.5 1505) scale(1 1.048)" text-anchor="middle">0</text><text transform="translate(536.0 1505) scale(1 1.048)" text-anchor="middle">500</text><text transform="translate(789.5 1505) scale(1 1.048)" text-anchor="middle">1000</text><text transform="translate(1043.0 1505) scale(1 1.048)" text-anchor="middle">1500</text><text transform="translate(1296.5 1505) scale(1 1.048)" text-anchor="middle">2000</text><text transform="translate(1550.0 1505) scale(1 1.048)" text-anchor="middle">2500</text><text transform="translate(1803.5 1505) scale(1 1.048)" text-anchor="middle">3000</text><text transform="translate(2057.6 1505) scale(1 1.048)" text-anchor="middle" letter-spacing="0.9">3500</text><text transform="translate(210.5 1402.8) scale(1 1.048)" text-anchor="end" letter-spacing="0.8">0</text><text transform="translate(210.5 1225.8) scale(1 1.048)" text-anchor="end" letter-spacing="0.8">0.02</text><text transform="translate(210.5 1048.8) scale(1 1.048)" text-anchor="end" letter-spacing="0.8">0.04</text><text transform="translate(210.5 871.8) scale(1 1.048)" text-anchor="end" letter-spacing="0.8">0.06</text><text transform="translate(210.5 694.8) scale(1 1.048)" text-anchor="end" letter-spacing="0.8">0.08</text><text transform="translate(210.5 517.8) scale(1 1.048)" text-anchor="end" letter-spacing="0.8">0.1</text><text transform="translate(210.5 340.8) scale(1 1.048)" text-anchor="end" letter-spacing="0.8">0.12</text><text transform="translate(210.5 163.8) scale(1 1.048)" text-anchor="end" letter-spacing="0.8">0.14</text></g>
<g fill="#262626" font-size="64.7"><text x="1145" y="1589" text-anchor="middle">Time [s]</text>
<text transform="translate(65.5 781) rotate(-90)" text-anchor="middle">Current [A]</text></g>
<g fill="#000" font-size="54.5">
<text x="2073.5" y="320.8">0.122 A</text>
<text x="2073.5" y="756.7">0.073 A</text>
<text x="2073.5" y="1304.6">0.011 A</text>
</g>
<rect x="299" y="20" width="1681" height="81" fill="#fff" stroke="#0d0d0d" stroke-width="2"/>
<line x1="313" y1="61" x2="460" y2="61" stroke="#0000ff" stroke-width="8"/>
<line x1="1128" y1="61" x2="1274" y2="61" stroke="#ff0000" stroke-width="8"/>
<g fill="#000" font-size="53.65"><text x="473" y="81.6">Sensor node configuration</text><text x="1287" y="81.6">Sensor system configuration</text></g>
</svg></body></html>
